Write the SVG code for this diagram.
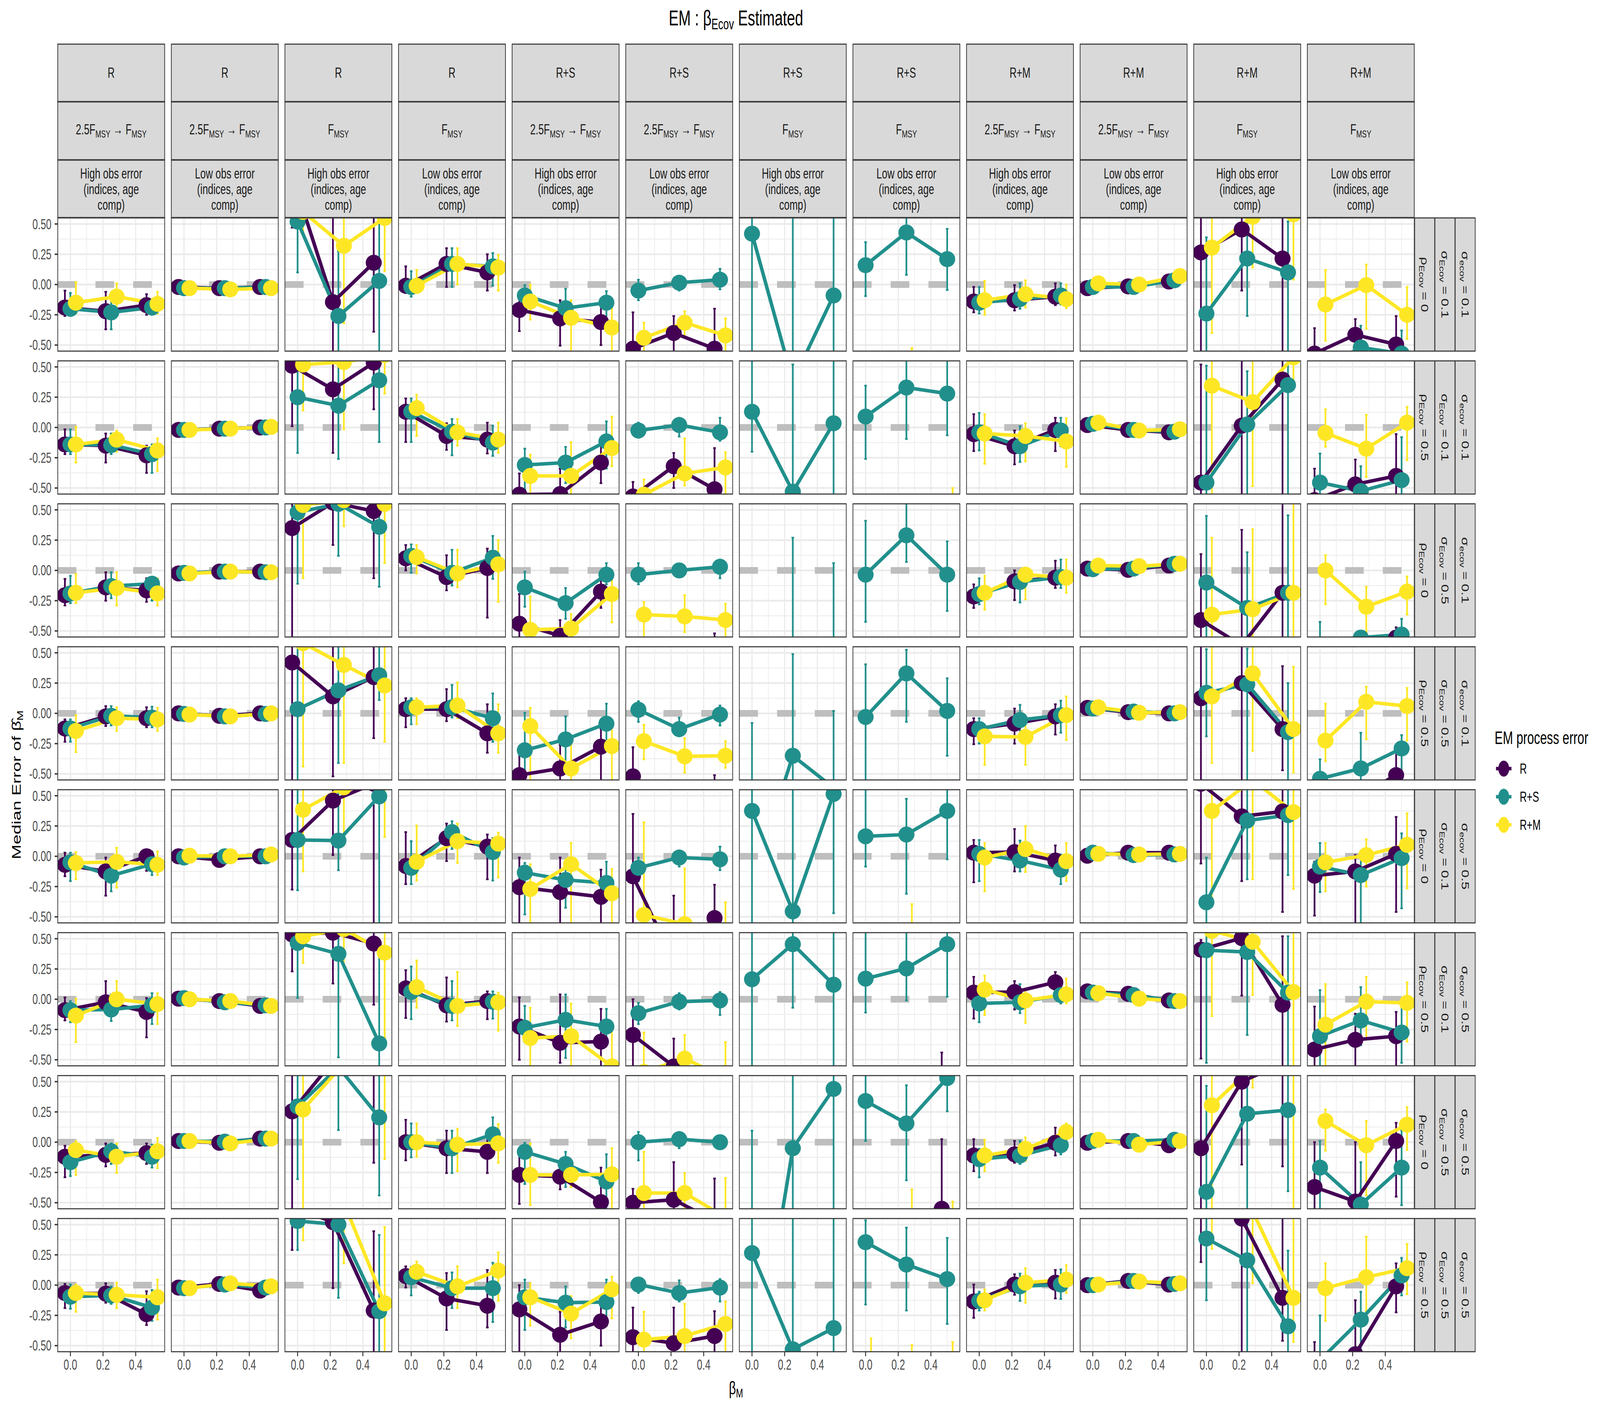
<svg xmlns="http://www.w3.org/2000/svg" xmlns:xlink="http://www.w3.org/1999/xlink" width="6000" height="3600" viewBox="0 0 6000 3600" preserveAspectRatio="none" style="width:100vw;height:100vh">
<defs>
<style>
text{font-family:"Liberation Sans",Arial,Helvetica,sans-serif}
.eb{fill:none;stroke-width:4.4px;vector-effect:non-scaling-stroke}
.ln{fill:none;stroke-width:9px;stroke-linejoin:round;vector-effect:non-scaling-stroke}
.pt{fill:none;stroke-width:41px;stroke-linecap:round;vector-effect:non-scaling-stroke}
.r{stroke:#440154}.s{stroke:#21908C}.m{stroke:#FDE725}
.sb{fill:#D9D9D9;stroke:#333333;stroke-width:2.7px}
.st{font-size:36.7px;fill:#1A1A1A;text-anchor:middle}
.ax{font-size:36.7px;fill:#4D4D4D}
</style>
<clipPath id="cp"><rect width="401" height="341"/></clipPath>
<g id="bg">
<rect width="401" height="341" fill="#FFFFFF"/>
<path d="M0 54.25H401M0 131.75H401M0 209.25H401M0 286.75H401M108.7 0V341M231.1 0V341M353.5 0V341" stroke="#EBEBEB" stroke-width="2.2" fill="none"/>
<path d="M0 15.5H401M0 93H401M0 170.5H401M0 248H401M0 325.5H401M47.5 0V341M169.9 0V341M292.3 0V341" stroke="#EBEBEB" stroke-width="4.4" fill="none"/>
<path d="M0 170.5H401" stroke="#BEBEBE" stroke-width="17" stroke-dasharray="70 71.5" fill="none"/>
</g>
<rect id="bd" width="401" height="341" fill="none" stroke="#333333" stroke-width="2.7"/>
<g id="sR"><rect class="sb" y="113" width="401" height="147"/><text class="st" x="200.5" y="199">R</text></g>
<g id="sRS"><rect class="sb" y="113" width="401" height="147"/><text class="st" x="200.5" y="199">R+S</text></g>
<g id="sRM"><rect class="sb" y="113" width="401" height="147"/><text class="st" x="200.5" y="199">R+M</text></g>
<g id="s25"><rect class="sb" y="261" width="401" height="148"/><text class="st" x="200.5" y="344">2.5F<tspan font-size="26" dy="8">MSY</tspan><tspan dy="-8"> → F</tspan><tspan font-size="26" dy="8">MSY</tspan></text></g>
<g id="sF"><rect class="sb" y="261" width="401" height="148"/><text class="st" x="200.5" y="344">F<tspan font-size="26" dy="8">MSY</tspan></text></g>
<g id="sH"><rect class="sb" y="410" width="401" height="147"/><text class="st" x="200.5" y="457">High obs error</text><text class="st" x="200.5" y="497">(indices, age</text><text class="st" x="200.5" y="537">comp)</text></g>
<g id="sL"><rect class="sb" y="410" width="401" height="147"/><text class="st" x="200.5" y="457">Low obs error</text><text class="st" x="200.5" y="497">(indices, age</text><text class="st" x="200.5" y="537">comp)</text></g>
<g id="rr0"><rect class="sb" x="5305" width="75" height="341"/><text class="st" transform="translate(5342.5 170.5) rotate(90)" y="13">ρ<tspan font-size="26" dy="8">Ecov</tspan><tspan dy="-8"> = 0</tspan></text></g>
<g id="rr5"><rect class="sb" x="5305" width="75" height="341"/><text class="st" transform="translate(5342.5 170.5) rotate(90)" y="13">ρ<tspan font-size="26" dy="8">Ecov</tspan><tspan dy="-8"> = 0.5</tspan></text></g>
<g id="rs1"><rect class="sb" x="5381" width="75" height="341"/><text class="st" transform="translate(5418.5 170.5) rotate(90)" y="13">σ<tspan font-size="26" dy="8">Ecov</tspan><tspan dy="-8"> = 0.1</tspan></text></g>
<g id="rs5"><rect class="sb" x="5381" width="75" height="341"/><text class="st" transform="translate(5418.5 170.5) rotate(90)" y="13">σ<tspan font-size="26" dy="8">Ecov</tspan><tspan dy="-8"> = 0.5</tspan></text></g>
<g id="re1"><rect class="sb" x="5457" width="75" height="341"/><text class="st" transform="translate(5494.5 170.5) rotate(90)" y="13">σ<tspan font-size="26" dy="8">ecov</tspan><tspan dy="-8"> = 0.1</tspan></text></g>
<g id="re5"><rect class="sb" x="5457" width="75" height="341"/><text class="st" transform="translate(5494.5 170.5) rotate(90)" y="13">σ<tspan font-size="26" dy="8">ecov</tspan><tspan dy="-8"> = 0.5</tspan></text></g>
<g id="ya"><path d="M205 15.5H216.5M205 93H216.5M205 170.5H216.5M205 248H216.5M205 325.5H216.5" stroke="#333333" stroke-width="3.5"/><g class="ax" text-anchor="end"><text x="193" y="28.5">0.50</text><text x="193" y="106">0.25</text><text x="193" y="183.5">0.00</text><text x="193" y="261">-0.25</text><text x="193" y="338.5">-0.50</text></g></g>
<g id="xa"><path d="M47.5 3461V3472.5M169.9 3461V3472.5M292.3 3461V3472.5" stroke="#333333" stroke-width="3.5"/><g class="ax" text-anchor="middle"><text x="47.5" y="3507">0.0</text><text x="169.9" y="3507">0.2</text><text x="292.3" y="3507">0.4</text></g></g>
</defs>
<rect width="6000" height="3600" fill="#FFFFFF"/>
<text x="2760" y="65" font-size="55" text-anchor="middle" fill="#000000">EM : β<tspan font-size="38" dy="10">Ecov</tspan><tspan dy="-10"> Estimated</tspan></text>
<g id="top-strips">
<use href="#sR" x="216.5"/><use href="#sR" x="642.5"/><use href="#sR" x="1068.5"/><use href="#sR" x="1494.5"/>
<use href="#sRS" x="1920.5"/><use href="#sRS" x="2346.5"/><use href="#sRS" x="2772.5"/><use href="#sRS" x="3198.5"/>
<use href="#sRM" x="3624.5"/><use href="#sRM" x="4050.5"/><use href="#sRM" x="4476.5"/><use href="#sRM" x="4902.5"/>
<use href="#s25" x="216.5"/><use href="#s25" x="642.5"/><use href="#sF" x="1068.5"/><use href="#sF" x="1494.5"/>
<use href="#s25" x="1920.5"/><use href="#s25" x="2346.5"/><use href="#sF" x="2772.5"/><use href="#sF" x="3198.5"/>
<use href="#s25" x="3624.5"/><use href="#s25" x="4050.5"/><use href="#sF" x="4476.5"/><use href="#sF" x="4902.5"/>
<use href="#sH" x="216.5"/><use href="#sL" x="642.5"/><use href="#sH" x="1068.5"/><use href="#sL" x="1494.5"/>
<use href="#sH" x="1920.5"/><use href="#sL" x="2346.5"/><use href="#sH" x="2772.5"/><use href="#sL" x="3198.5"/>
<use href="#sH" x="3624.5"/><use href="#sL" x="4050.5"/><use href="#sH" x="4476.5"/><use href="#sL" x="4902.5"/>
</g>
<g id="right-strips">
<use href="#rr0" y="558"/><use href="#rs1" y="558"/><use href="#re1" y="558"/>
<use href="#rr5" y="924"/><use href="#rs1" y="924"/><use href="#re1" y="924"/>
<use href="#rr0" y="1290"/><use href="#rs5" y="1290"/><use href="#re1" y="1290"/>
<use href="#rr5" y="1656"/><use href="#rs5" y="1656"/><use href="#re1" y="1656"/>
<use href="#rr0" y="2022"/><use href="#rs1" y="2022"/><use href="#re5" y="2022"/>
<use href="#rr5" y="2388"/><use href="#rs1" y="2388"/><use href="#re5" y="2388"/>
<use href="#rr0" y="2754"/><use href="#rs5" y="2754"/><use href="#re5" y="2754"/>
<use href="#rr5" y="3120"/><use href="#rs5" y="3120"/><use href="#re5" y="3120"/>
</g>
<g id="axes">
<use href="#ya" y="558"/><use href="#ya" y="924"/><use href="#ya" y="1290"/><use href="#ya" y="1656"/><use href="#ya" y="2022"/><use href="#ya" y="2388"/><use href="#ya" y="2754"/><use href="#ya" y="3120"/>
<use href="#xa" x="216.5"/><use href="#xa" x="642.5"/><use href="#xa" x="1068.5"/><use href="#xa" x="1494.5"/><use href="#xa" x="1920.5"/><use href="#xa" x="2346.5"/><use href="#xa" x="2772.5"/><use href="#xa" x="3198.5"/><use href="#xa" x="3624.5"/><use href="#xa" x="4050.5"/><use href="#xa" x="4476.5"/><use href="#xa" x="4902.5"/>
<text transform="translate(78 2009.5) rotate(-90)" font-size="45.8" text-anchor="middle" fill="#000000">Median Error of β̂<tspan font-size="32" dy="8">M</tspan></text>
<text x="2760" y="3570" font-size="45.8" text-anchor="middle" fill="#000000">β<tspan font-size="32" dy="8">M</tspan></text>
</g>
<g id="panels">
<!-- Row 1 -->
<g id="p1-1" transform="translate(216.5 558)"><use href="#bg"/><g clip-path="url(#cp)"><g transform="translate(47.5 170.5) scale(612 -310)">
<path class="eb r" d="M-.0335 -.26V-.05m-.008 0h.016M-.0415 -.26h.016M.2165 -.37V-.06m-.008 0h.016M.2085 -.37h.016M.4665 -.25V-.08m-.008 0h.016M.4585 -.25h.016"/>
<path class="eb s" d="M0 -.26V-.07m-.008 0h.016M-.008 -.26h.016M.25 -.37V-.08m-.008 0h.016M.242 -.37h.016M.5 -.25V-.13m-.008 0h.016M.492 -.25h.016"/>
<path class="eb m" d="M.0335 -.24V.02m-.008 0h.016M.0255 -.24h.016M.2835 -.26V.01m-.008 0h.016M.2755 -.26h.016M.5335 -.24V-.06m-.008 0h.016M.5255 -.24h.016"/>
<path class="ln r" d="M-.0335 -.19L.2165 -.22L.4665 -.17"/><path class="ln s" d="M0 -.2L.25 -.23L.5 -.19"/><path class="ln m" d="M.0335 -.15L.2835 -.1L.5335 -.16"/>
<path class="pt r" d="M-.0335 -.19h.0001M.2165 -.22h.0001M.4665 -.17h.0001"/><path class="pt s" d="M0 -.2h.0001M.25 -.23h.0001M.5 -.19h.0001"/><path class="pt m" d="M.0335 -.15h.0001M.2835 -.1h.0001M.5335 -.16h.0001"/>
</g></g><use href="#bd"/></g>
<g id="p1-2" transform="translate(642.5 558)"><use href="#bg"/><g clip-path="url(#cp)"><g transform="translate(47.5 170.5) scale(612 -310)">
<path class="ln r" d="M-.0335 -.02L.2165 -.03L.4665 -.02"/><path class="ln s" d="M0 -.03L.25 -.03L.5 -.02"/><path class="ln m" d="M.0335 -.03L.2835 -.04L.5335 -.03"/>
<path class="pt r" d="M-.0335 -.02h.0001M.2165 -.03h.0001M.4665 -.02h.0001"/><path class="pt s" d="M0 -.03h.0001M.25 -.03h.0001M.5 -.02h.0001"/><path class="pt m" d="M.0335 -.03h.0001M.2835 -.04h.0001M.5335 -.03h.0001"/>
</g></g><use href="#bd"/></g>
<g id="p1-3" transform="translate(1068.5 558)"><use href="#bg"/><g clip-path="url(#cp)"><g transform="translate(47.5 170.5) scale(612 -310)">
<path class="eb r" d="M-.0335 .47V1M-.0415 .47h.016M.2165 -1V1M.4665 -.39V1M.4585 -.39h.016"/>
<path class="eb s" d="M0 .1V1M-.008 .1h.016M.25 -1V.275m-.008 0h.016M.5 -1V1"/>
<path class="eb m" d="M.0335 .43V1M.0255 .43h.016M.2835 -.32V1M.2755 -.32h.016M.5335 .11V1M.5255 .11h.016"/>
<path class="ln r" d="M-.0335 .9L.2165 -.145L.4665 .18"/><path class="ln s" d="M0 .52L.25 -.26L.5 .03"/><path class="ln m" d="M.0335 .6L.2835 .32L.5335 .55"/>
<path class="pt r" d="M-.0335 .9h.0001M.2165 -.145h.0001M.4665 .18h.0001"/><path class="pt s" d="M0 .52h.0001M.25 -.26h.0001M.5 .03h.0001"/><path class="pt m" d="M.0335 .6h.0001M.2835 .32h.0001M.5335 .55h.0001"/>
</g></g><use href="#bd"/></g>
<g id="p1-4" transform="translate(1494.5 558)"><use href="#bg"/><g clip-path="url(#cp)"><g transform="translate(47.5 170.5) scale(612 -310)">
<path class="eb r" d="M-.0335 -.07V.15m-.008 0h.016M-.0415 -.07h.016M.2165 -.02V.3m-.008 0h.016M.2085 -.02h.016M.4665 -.05V.25m-.008 0h.016M.4585 -.05h.016"/>
<path class="eb s" d="M0 -.1V.11m-.008 0h.016M-.008 -.1h.016M.25 -.02V.3m-.008 0h.016M.242 -.02h.016M.5 -.01V.26m-.008 0h.016M.492 -.01h.016"/>
<path class="eb m" d="M.0335 -.07V.12m-.008 0h.016M.0255 -.07h.016M.2835 0V.3m-.008 0h.016M.2755 0h.016M.5335 -.05V.245m-.008 0h.016M.5255 -.05h.016"/>
<path class="ln r" d="M-.0335 -.01L.2165 .17L.4665 .1"/><path class="ln s" d="M0 -.02L.25 .17L.5 .15"/><path class="ln m" d="M.0335 -.01L.2835 .17L.5335 .14"/>
<path class="pt r" d="M-.0335 -.01h.0001M.2165 .17h.0001M.4665 .1h.0001"/><path class="pt s" d="M0 -.02h.0001M.25 .17h.0001M.5 .15h.0001"/><path class="pt m" d="M.0335 -.01h.0001M.2835 .17h.0001M.5335 .14h.0001"/>
</g></g><use href="#bd"/></g>
<g id="p1-5" transform="translate(1920.5 558)"><use href="#bg"/><g clip-path="url(#cp)"><g transform="translate(47.5 170.5) scale(612 -310)">
<path class="eb r" d="M-.0335 -.385V-.11m-.008 0h.016M-.0415 -.385h.016M.2165 -.505V-.13m-.008 0h.016M.2085 -.505h.016M.4665 -.5V-.12m-.008 0h.016M.4585 -.5h.016"/>
<path class="eb s" d="M0 -.2V-.005m-.008 0h.016M-.008 -.2h.016M.25 -.3V-.035m-.008 0h.016M.242 -.3h.016M.5 -.385V-.055m-.008 0h.016M.492 -.385h.016"/>
<path class="eb m" d="M.0335 -.29V0m-.008 0h.016M.0255 -.29h.016M.2835 -1V-.13m-.008 0h.016M.5335 -1V-.12m-.008 0h.016"/>
<path class="ln r" d="M-.0335 -.21L.2165 -.28L.4665 -.31"/><path class="ln s" d="M0 -.09L.25 -.195L.5 -.15"/><path class="ln m" d="M.0335 -.14L.2835 -.275L.5335 -.355"/>
<path class="pt r" d="M-.0335 -.21h.0001M.2165 -.28h.0001M.4665 -.31h.0001"/><path class="pt s" d="M0 -.09h.0001M.25 -.195h.0001M.5 -.15h.0001"/><path class="pt m" d="M.0335 -.14h.0001M.2835 -.275h.0001M.5335 -.355h.0001"/>
</g></g><use href="#bd"/></g>
<g id="p1-6" transform="translate(2346.5 558)"><use href="#bg"/><g clip-path="url(#cp)"><g transform="translate(47.5 170.5) scale(612 -310)">
<path class="eb r" d="M-.0335 -1V-.23m-.008 0h.016M.2165 -1V-.26m-.008 0h.016M.4665 -1V-.2m-.008 0h.016"/>
<path class="eb s" d="M0 -.13V.04m-.008 0h.016M-.008 -.13h.016M.25 -.05V.035m-.008 0h.016M.242 -.05h.016M.5 -.04V.13m-.008 0h.016M.492 -.04h.016"/>
<path class="eb m" d="M.0335 -1V-.315m-.008 0h.016M.2835 -.435V-.22m-.008 0h.016M.2755 -.435h.016M.5335 -1V-.28m-.008 0h.016"/>
<path class="ln r" d="M-.0335 -.53L.2165 -.4L.4665 -.53"/><path class="ln s" d="M0 -.05L.25 .015L.5 .04"/><path class="ln m" d="M.0335 -.44L.2835 -.315L.5335 -.42"/>
<path class="pt r" d="M-.0335 -.53h.0001M.2165 -.4h.0001M.4665 -.53h.0001"/><path class="pt s" d="M0 -.05h.0001M.25 .015h.0001M.5 .04h.0001"/><path class="pt m" d="M.0335 -.44h.0001M.2835 -.315h.0001M.5335 -.42h.0001"/>
</g></g><use href="#bd"/></g>
<g id="p1-7" transform="translate(2772.5 558)"><use href="#bg"/><g clip-path="url(#cp)"><g transform="translate(47.5 170.5) scale(612 -310)">
<path class="eb s" d="M0 -1V1M.25 -1V1M.5 -1V1"/>
<path class="ln s" d="M0 .42L.25 -.8L.5 -.09"/>
<path class="pt s" d="M0 .42h.0001M.25 -.8h.0001M.5 -.09h.0001"/>
</g></g><use href="#bd"/></g>
<g id="p1-8" transform="translate(3198.5 558)"><use href="#bg"/><g clip-path="url(#cp)"><g transform="translate(47.5 170.5) scale(612 -310)">
<path class="eb s" d="M0 -.095V.35m-.008 0h.016M-.008 -.095h.016M.25 .08V1M.242 .08h.016M.5 -.045V.46m-.008 0h.016M.492 -.045h.016"/>
<path class="eb m" d="M.2835 -1V-.525m-.008 0h.016"/>
<path class="ln s" d="M0 .16L.25 .43L.5 .21"/>
<path class="pt s" d="M0 .16h.0001M.25 .43h.0001M.5 .21h.0001"/>
</g></g><use href="#bd"/></g>
<g id="p1-9" transform="translate(3624.5 558)"><use href="#bg"/><g clip-path="url(#cp)"><g transform="translate(47.5 170.5) scale(612 -310)">
<path class="eb r" d="M-.0335 -.23V-.02m-.008 0h.016M-.0415 -.23h.016M.2165 -.215V-.005m-.008 0h.016M.2085 -.215h.016M.4665 -.17V.01m-.008 0h.016M.4585 -.17h.016"/>
<path class="eb s" d="M0 -.24V-.02m-.008 0h.016M-.008 -.24h.016M.25 -.2V.01m-.008 0h.016M.242 -.2h.016M.5 -.165V.01m-.008 0h.016M.492 -.165h.016"/>
<path class="eb m" d="M.0335 -.25V.03m-.008 0h.016M.0255 -.25h.016M.2835 -.19V.035m-.008 0h.016M.2755 -.19h.016M.5335 -.195V0m-.008 0h.016M.5255 -.195h.016"/>
<path class="ln r" d="M-.0335 -.14L.2165 -.13L.4665 -.1"/><path class="ln s" d="M0 -.15L.25 -.12L.5 -.09"/><path class="ln m" d="M.0335 -.13L.2835 -.08L.5335 -.12"/>
<path class="pt r" d="M-.0335 -.14h.0001M.2165 -.13h.0001M.4665 -.1h.0001"/><path class="pt s" d="M0 -.15h.0001M.25 -.12h.0001M.5 -.09h.0001"/><path class="pt m" d="M.0335 -.13h.0001M.2835 -.08h.0001M.5335 -.12h.0001"/>
</g></g><use href="#bd"/></g>
<g id="p1-10" transform="translate(4050.5 558)"><use href="#bg"/><g clip-path="url(#cp)"><g transform="translate(47.5 170.5) scale(612 -310)">
<path class="ln r" d="M-.0335 -.03L.2165 -.015L.4665 .025"/><path class="ln s" d="M0 -.02L.25 -.02L.5 .035"/><path class="ln m" d="M.0335 .01L.2835 0L.5335 .07"/>
<path class="pt r" d="M-.0335 -.03h.0001M.2165 -.015h.0001M.4665 .025h.0001"/><path class="pt s" d="M0 -.02h.0001M.25 -.02h.0001M.5 .035h.0001"/><path class="pt m" d="M.0335 .01h.0001M.2835 0h.0001M.5335 .07h.0001"/>
</g></g><use href="#bd"/></g>
<g id="p1-11" transform="translate(4476.5 558)"><use href="#bg"/><g clip-path="url(#cp)"><g transform="translate(47.5 170.5) scale(612 -310)">
<path class="eb r" d="M-.0335 -1V1M.2165 -.05V1M.2085 -.05h.016M.4665 -1V1"/>
<path class="eb s" d="M0 -1V.39m-.008 0h.016M.25 -.26V1M.242 -.26h.016M.5 -1V.52m-.008 0h.016"/>
<path class="eb m" d="M.0335 -.4V1M.0255 -.4h.016M.2835 .14V1M.2755 .14h.016M.5335 .04V1M.5255 .04h.016"/>
<path class="ln r" d="M-.0335 .265L.2165 .455L.4665 .215"/><path class="ln s" d="M0 -.24L.25 .215L.5 .1"/><path class="ln m" d="M.0335 .305L.2835 .56L.5335 .58"/>
<path class="pt r" d="M-.0335 .265h.0001M.2165 .455h.0001M.4665 .215h.0001"/><path class="pt s" d="M0 -.24h.0001M.25 .215h.0001M.5 .1h.0001"/><path class="pt m" d="M.0335 .305h.0001M.2835 .56h.0001M.5335 .58h.0001"/>
</g></g><use href="#bd"/></g>
<g id="p1-12" transform="translate(4902.5 558)"><use href="#bg"/><g clip-path="url(#cp)"><g transform="translate(47.5 170.5) scale(612 -310)">
<path class="eb r" d="M-.0335 -1V-.36m-.008 0h.016M.2165 -1V-.285m-.008 0h.016M.4665 -1V-.26m-.008 0h.016"/>
<path class="eb s" d="M0 -1V-.6M.25 -1V-.34m-.008 0h.016M.5 -1V-.38m-.008 0h.016"/>
<path class="eb m" d="M.0335 -.465V.12m-.008 0h.016M.0255 -.465h.016M.2835 -.365V.165m-.008 0h.016M.2755 -.365h.016M.5335 -.45V-.02m-.008 0h.016M.5255 -.45h.016"/>
<path class="ln r" d="M-.0335 -.57L.2165 -.415L.4665 -.495"/><path class="ln s" d="M0 -.7L.25 -.52L.5 -.57"/><path class="ln m" d="M.0335 -.165L.2835 -.005L.5335 -.25"/>
<path class="pt r" d="M-.0335 -.57h.0001M.2165 -.415h.0001M.4665 -.495h.0001"/><path class="pt s" d="M0 -.7h.0001M.25 -.52h.0001M.5 -.57h.0001"/><path class="pt m" d="M.0335 -.165h.0001M.2835 -.005h.0001M.5335 -.25h.0001"/>
</g></g><use href="#bd"/></g>
<!-- Row 2 -->
<g id="p2-1" transform="translate(216.5 924)"><use href="#bg"/><g clip-path="url(#cp)"><g transform="translate(47.5 170.5) scale(612 -310)">
<path class="eb r" d="M-.0335 -.22V-.015m-.008 0h.016M-.0415 -.22h.016M.2165 -.29V-.05m-.008 0h.016M.2085 -.29h.016M.4665 -.375V-.15m-.008 0h.016M.4585 -.375h.016"/>
<path class="eb s" d="M0 -.22V-.015m-.008 0h.016M-.008 -.22h.016M.25 -.22V-.05m-.008 0h.016M.242 -.22h.016M.5 -.375V-.14m-.008 0h.016M.492 -.375h.016"/>
<path class="eb m" d="M.0335 -.29V.005m-.008 0h.016M.0255 -.29h.016M.2835 -.2V-.025m-.008 0h.016M.2755 -.2h.016M.5335 -.36V-.09m-.008 0h.016M.5255 -.36h.016"/>
<path class="ln r" d="M-.0335 -.14L.2165 -.15L.4665 -.23"/><path class="ln s" d="M0 -.14L.25 -.145L.5 -.22"/><path class="ln m" d="M.0335 -.14L.2835 -.1L.5335 -.19"/>
<path class="pt r" d="M-.0335 -.14h.0001M.2165 -.15h.0001M.4665 -.23h.0001"/><path class="pt s" d="M0 -.14h.0001M.25 -.145h.0001M.5 -.22h.0001"/><path class="pt m" d="M.0335 -.14h.0001M.2835 -.1h.0001M.5335 -.19h.0001"/>
</g></g><use href="#bd"/></g>
<g id="p2-2" transform="translate(642.5 924)"><use href="#bg"/><g clip-path="url(#cp)"><g transform="translate(47.5 170.5) scale(612 -310)">
<path class="ln r" d="M-.0335 -.02L.2165 -.01L.4665 0"/><path class="ln s" d="M0 -.02L.25 -.01L.5 0"/><path class="ln m" d="M.0335 -.02L.2835 -.01L.5335 .005"/>
<path class="pt r" d="M-.0335 -.02h.0001M.2165 -.01h.0001M.4665 0h.0001"/><path class="pt s" d="M0 -.02h.0001M.25 -.01h.0001M.5 0h.0001"/><path class="pt m" d="M.0335 -.02h.0001M.2835 -.01h.0001M.5335 .005h.0001"/>
</g></g><use href="#bd"/></g>
<g id="p2-3" transform="translate(1068.5 924)"><use href="#bg"/><g clip-path="url(#cp)"><g transform="translate(47.5 170.5) scale(612 -310)">
<path class="eb r" d="M-.0335 .01V1M-.0415 .01h.016M.2165 -.21V1M.2085 -.21h.016M.4665 .15V1M.4585 .15h.016"/>
<path class="eb s" d="M0 -.21V1M-.008 -.21h.016M.25 -.26V1M.242 -.26h.016M.5 -.12V1M.492 -.12h.016"/>
<path class="eb m" d="M.0335 .14V1M.0255 .14h.016M.2835 -.015V1M.2755 -.015h.016M.5335 .28V1M.5255 .28h.016"/>
<path class="ln r" d="M-.0335 .51L.2165 .315L.4665 .535"/><path class="ln s" d="M0 .25L.25 .18L.5 .39"/><path class="ln m" d="M.0335 .52L.2835 .54L.5335 .6"/>
<path class="pt r" d="M-.0335 .51h.0001M.2165 .315h.0001M.4665 .535h.0001"/><path class="pt s" d="M0 .25h.0001M.25 .18h.0001M.5 .39h.0001"/><path class="pt m" d="M.0335 .52h.0001M.2835 .54h.0001M.5335 .6h.0001"/>
</g></g><use href="#bd"/></g>
<g id="p2-4" transform="translate(1494.5 924)"><use href="#bg"/><g clip-path="url(#cp)"><g transform="translate(47.5 170.5) scale(612 -310)">
<path class="eb r" d="M-.0335 -.12V.24m-.008 0h.016M-.0415 -.12h.016M.2165 -.185V.035m-.008 0h.016M.2085 -.185h.016M.4665 -.215V.04m-.008 0h.016M.4585 -.215h.016"/>
<path class="eb s" d="M0 -.12V.24m-.008 0h.016M-.008 -.12h.016M.25 -.23V.07m-.008 0h.016M.242 -.23h.016M.5 -.235V.015m-.008 0h.016M.492 -.235h.016"/>
<path class="eb m" d="M.0335 -.07V.27m-.008 0h.016M.0255 -.07h.016M.2835 -.15V.07m-.008 0h.016M.2755 -.15h.016M.5335 -.21V.04m-.008 0h.016M.5255 -.21h.016"/>
<path class="ln r" d="M-.0335 .13L.2165 -.07L.4665 -.1"/><path class="ln s" d="M0 .13L.25 -.035L.5 -.125"/><path class="ln m" d="M.0335 .16L.2835 -.04L.5335 -.1"/>
<path class="pt r" d="M-.0335 .13h.0001M.2165 -.07h.0001M.4665 -.1h.0001"/><path class="pt s" d="M0 .13h.0001M.25 -.035h.0001M.5 -.125h.0001"/><path class="pt m" d="M.0335 .16h.0001M.2835 -.04h.0001M.5335 -.1h.0001"/>
</g></g><use href="#bd"/></g>
<g id="p2-5" transform="translate(1920.5 924)"><use href="#bg"/><g clip-path="url(#cp)"><g transform="translate(47.5 170.5) scale(612 -310)">
<path class="eb r" d="M-.0335 -1V-.38m-.008 0h.016M.2165 -1V-.34m-.008 0h.016M.4665 -.46V-.14m-.008 0h.016M.4585 -.46h.016"/>
<path class="eb s" d="M0 -.515V-.175m-.008 0h.016M-.008 -.515h.016M.25 -.46V-.16m-.008 0h.016M.242 -.46h.016M.5 -.34V.05m-.008 0h.016M.492 -.34h.016"/>
<path class="eb m" d="M.0335 -1V-.225m-.008 0h.016M.2835 -1V-.12m-.008 0h.016M.5335 -.32V.09m-.008 0h.016M.5255 -.32h.016"/>
<path class="ln r" d="M-.0335 -.555L.2165 -.55L.4665 -.29"/><path class="ln s" d="M0 -.31L.25 -.29L.5 -.115"/><path class="ln m" d="M.0335 -.4L.2835 -.4L.5335 -.17"/>
<path class="pt r" d="M-.0335 -.555h.0001M.2165 -.55h.0001M.4665 -.29h.0001"/><path class="pt s" d="M0 -.31h.0001M.25 -.29h.0001M.5 -.115h.0001"/><path class="pt m" d="M.0335 -.4h.0001M.2835 -.4h.0001M.5335 -.17h.0001"/>
</g></g><use href="#bd"/></g>
<g id="p2-6" transform="translate(2346.5 924)"><use href="#bg"/><g clip-path="url(#cp)"><g transform="translate(47.5 170.5) scale(612 -310)">
<path class="eb r" d="M-.0335 -1V-.45m-.008 0h.016M.2165 -.5V-.21m-.008 0h.016M.2085 -.5h.016M.4665 -1V-.17m-.008 0h.016"/>
<path class="eb s" d="M0 -.085V.04m-.008 0h.016M-.008 -.085h.016M.25 -.075V.08m-.008 0h.016M.242 -.075h.016M.5 -.11V.08m-.008 0h.016M.492 -.11h.016"/>
<path class="eb m" d="M.0335 -1V-.43m-.008 0h.016M.2835 -.48V-.09m-.008 0h.016M.2755 -.48h.016M.5335 -1V-.205m-.008 0h.016"/>
<path class="ln r" d="M-.0335 -.57L.2165 -.32L.4665 -.51"/><path class="ln s" d="M0 -.025L.25 .02L.5 -.04"/><path class="ln m" d="M.0335 -.555L.2835 -.38L.5335 -.33"/>
<path class="pt r" d="M-.0335 -.57h.0001M.2165 -.32h.0001M.4665 -.51h.0001"/><path class="pt s" d="M0 -.025h.0001M.25 .02h.0001M.5 -.04h.0001"/><path class="pt m" d="M.0335 -.555h.0001M.2835 -.38h.0001M.5335 -.33h.0001"/>
</g></g><use href="#bd"/></g>
<g id="p2-7" transform="translate(2772.5 924)"><use href="#bg"/><g clip-path="url(#cp)"><g transform="translate(47.5 170.5) scale(612 -310)">
<path class="eb s" d="M0 -.2V1M-.008 -.2h.016M.25 -1V.52m-.008 0h.016M.5 -1V1"/>
<path class="ln s" d="M0 .13L.25 -.53L.5 .035"/>
<path class="pt s" d="M0 .13h.0001M.25 -.53h.0001M.5 .035h.0001"/>
</g></g><use href="#bd"/></g>
<g id="p2-8" transform="translate(3198.5 924)"><use href="#bg"/><g clip-path="url(#cp)"><g transform="translate(47.5 170.5) scale(612 -310)">
<path class="eb s" d="M0 -.26V.345m-.008 0h.016M-.008 -.26h.016M.25 -.095V1M.242 -.095h.016M.5 -.065V1M.492 -.065h.016"/>
<path class="eb m" d="M.5335 -1V-.5m-.008 0h.016"/>
<path class="ln s" d="M0 .09L.25 .33L.5 .28"/>
<path class="pt s" d="M0 .09h.0001M.25 .33h.0001M.5 .28h.0001"/>
</g></g><use href="#bd"/></g>
<g id="p2-9" transform="translate(3624.5 924)"><use href="#bg"/><g clip-path="url(#cp)"><g transform="translate(47.5 170.5) scale(612 -310)">
<path class="eb r" d="M-.0335 -.195V.11m-.008 0h.016M-.0415 -.195h.016M.2165 -.305V-.025m-.008 0h.016M.2085 -.305h.016M.4665 -.195V.08m-.008 0h.016M.4585 -.195h.016"/>
<path class="eb s" d="M0 -.19V.12m-.008 0h.016M-.008 -.19h.016M.25 -.285V.01m-.008 0h.016M.242 -.285h.016M.5 -.155V.08m-.008 0h.016M.492 -.155h.016"/>
<path class="eb m" d="M.0335 -.3V.11m-.008 0h.016M.0255 -.3h.016M.2835 -.28V.035m-.008 0h.016M.2755 -.28h.016M.5335 -.325V.075m-.008 0h.016M.5255 -.325h.016"/>
<path class="ln r" d="M-.0335 -.055L.2165 -.155L.4665 -.02"/><path class="ln s" d="M0 -.04L.25 -.155L.5 -.025"/><path class="ln m" d="M.0335 -.05L.2835 -.07L.5335 -.115"/>
<path class="pt r" d="M-.0335 -.055h.0001M.2165 -.155h.0001M.4665 -.02h.0001"/><path class="pt s" d="M0 -.04h.0001M.25 -.155h.0001M.5 -.025h.0001"/><path class="pt m" d="M.0335 -.05h.0001M.2835 -.07h.0001M.5335 -.115h.0001"/>
</g></g><use href="#bd"/></g>
<g id="p2-10" transform="translate(4050.5 924)"><use href="#bg"/><g clip-path="url(#cp)"><g transform="translate(47.5 170.5) scale(612 -310)">
<path class="ln r" d="M-.0335 .02L.2165 -.02L.4665 -.04"/><path class="ln s" d="M0 .03L.25 -.02L.5 -.035"/><path class="ln m" d="M.0335 .04L.2835 -.025L.5335 -.015"/>
<path class="pt r" d="M-.0335 .02h.0001M.2165 -.02h.0001M.4665 -.04h.0001"/><path class="pt s" d="M0 .03h.0001M.25 -.02h.0001M.5 -.035h.0001"/><path class="pt m" d="M.0335 .04h.0001M.2835 -.025h.0001M.5335 -.015h.0001"/>
</g></g><use href="#bd"/></g>
<g id="p2-11" transform="translate(4476.5 924)"><use href="#bg"/><g clip-path="url(#cp)"><g transform="translate(47.5 170.5) scale(612 -310)">
<path class="eb r" d="M-.0335 -1V.52m-.008 0h.016M.2165 -1V1M.4665 -1V1"/>
<path class="eb s" d="M0 -1V.51m-.008 0h.016M.25 -1V.465m-.008 0h.016M.5 -1V1"/>
<path class="eb m" d="M.0335 -1V1M.2835 -.485V1M.2755 -.485h.016M.5335 .345V1M.5255 .345h.016"/>
<path class="ln r" d="M-.0335 -.455L.2165 .015L.4665 .395"/><path class="ln s" d="M0 -.455L.25 .025L.5 .35"/><path class="ln m" d="M.0335 .345L.2835 .21L.5335 .58"/>
<path class="pt r" d="M-.0335 -.455h.0001M.2165 .015h.0001M.4665 .395h.0001"/><path class="pt s" d="M0 -.455h.0001M.25 .025h.0001M.5 .35h.0001"/><path class="pt m" d="M.0335 .345h.0001M.2835 .21h.0001M.5335 .58h.0001"/>
</g></g><use href="#bd"/></g>
<g id="p2-12" transform="translate(4902.5 924)"><use href="#bg"/><g clip-path="url(#cp)"><g transform="translate(47.5 170.5) scale(612 -310)">
<path class="eb r" d="M-.0335 -1V-.34m-.008 0h.016M.2165 -1V-.265m-.008 0h.016M.4665 -1V-.055m-.008 0h.016"/>
<path class="eb s" d="M0 -1V-.215m-.008 0h.016M.25 -1V-.32m-.008 0h.016M.5 -1V-.08m-.008 0h.016"/>
<path class="eb m" d="M.0335 -.16V.15m-.008 0h.016M.0255 -.16h.016M.2835 -.41V.105m-.008 0h.016M.2755 -.41h.016M.5335 -.27V.17m-.008 0h.016M.5255 -.27h.016"/>
<path class="ln r" d="M-.0335 -.6L.2165 -.47L.4665 -.4"/><path class="ln s" d="M0 -.455L.25 -.525L.5 -.435"/><path class="ln m" d="M.0335 -.045L.2835 -.175L.5335 .04"/>
<path class="pt r" d="M-.0335 -.6h.0001M.2165 -.47h.0001M.4665 -.4h.0001"/><path class="pt s" d="M0 -.455h.0001M.25 -.525h.0001M.5 -.435h.0001"/><path class="pt m" d="M.0335 -.045h.0001M.2835 -.175h.0001M.5335 .04h.0001"/>
</g></g><use href="#bd"/></g>
<!-- Row 3 -->
<g id="p3-1" transform="translate(216.5 1290)"><use href="#bg"/><g clip-path="url(#cp)"><g transform="translate(47.5 170.5) scale(612 -310)">
<path class="eb r" d="M-.0335 -.29V-.07m-.008 0h.016M-.0415 -.29h.016M.2165 -.25V-.015m-.008 0h.016M.2085 -.25h.016M.4665 -.26V-.065m-.008 0h.016M.4585 -.26h.016"/>
<path class="eb s" d="M0 -.27V-.045m-.008 0h.016M-.008 -.27h.016M.25 -.23V-.015m-.008 0h.016M.242 -.23h.016M.5 -.25V-.065m-.008 0h.016M.492 -.25h.016"/>
<path class="eb m" d="M.0335 -.27V-.03m-.008 0h.016M.0255 -.27h.016M.2835 -.29V-.015m-.008 0h.016M.2755 -.29h.016M.5335 -.29V-.065m-.008 0h.016M.5255 -.29h.016"/>
<path class="ln r" d="M-.0335 -.205L.2165 -.14L.4665 -.165"/><path class="ln s" d="M0 -.19L.25 -.13L.5 -.11"/><path class="ln m" d="M.0335 -.185L.2835 -.145L.5335 -.19"/>
<path class="pt r" d="M-.0335 -.205h.0001M.2165 -.14h.0001M.4665 -.165h.0001"/><path class="pt s" d="M0 -.19h.0001M.25 -.13h.0001M.5 -.11h.0001"/><path class="pt m" d="M.0335 -.185h.0001M.2835 -.145h.0001M.5335 -.19h.0001"/>
</g></g><use href="#bd"/></g>
<g id="p3-2" transform="translate(642.5 1290)"><use href="#bg"/><g clip-path="url(#cp)"><g transform="translate(47.5 170.5) scale(612 -310)">
<path class="ln r" d="M-.0335 -.025L.2165 -.01L.4665 -.01"/><path class="ln s" d="M0 -.02L.25 -.01L.5 -.015"/><path class="ln m" d="M.0335 -.025L.2835 -.01L.5335 -.015"/>
<path class="pt r" d="M-.0335 -.025h.0001M.2165 -.01h.0001M.4665 -.01h.0001"/><path class="pt s" d="M0 -.02h.0001M.25 -.01h.0001M.5 -.015h.0001"/><path class="pt m" d="M.0335 -.025h.0001M.2835 -.01h.0001M.5335 -.015h.0001"/>
</g></g><use href="#bd"/></g>
<g id="p3-3" transform="translate(1068.5 1290)"><use href="#bg"/><g clip-path="url(#cp)"><g transform="translate(47.5 170.5) scale(612 -310)">
<path class="eb r" d="M-.0335 -1V1M.2165 .21V1M.2085 .21h.016M.4665 -.065V1M.4585 -.065h.016"/>
<path class="eb s" d="M0 -.11V1M-.008 -.11h.016M.25 .12V1M.242 .12h.016M.5 -.135V1M.492 -.135h.016"/>
<path class="eb m" d="M.0335 -.065V1M.0255 -.065h.016M.2835 .365V1M.2755 .365h.016M.5335 .06V1M.5255 .06h.016"/>
<path class="ln r" d="M-.0335 .35L.2165 .56L.4665 .49"/><path class="ln s" d="M0 .48L.25 .55L.5 .36"/><path class="ln m" d="M.0335 .54L.2835 .58L.5335 .55"/>
<path class="pt r" d="M-.0335 .35h.0001M.2165 .56h.0001M.4665 .49h.0001"/><path class="pt s" d="M0 .48h.0001M.25 .55h.0001M.5 .36h.0001"/><path class="pt m" d="M.0335 .54h.0001M.2835 .58h.0001M.5335 .55h.0001"/>
</g></g><use href="#bd"/></g>
<g id="p3-4" transform="translate(1494.5 1290)"><use href="#bg"/><g clip-path="url(#cp)"><g transform="translate(47.5 170.5) scale(612 -310)">
<path class="eb r" d="M-.0335 0V.21m-.008 0h.016M-.0415 0h.016M.2165 -.165V.125m-.008 0h.016M.2085 -.165h.016M.4665 -.39V.18m-.008 0h.016M.4585 -.39h.016"/>
<path class="eb s" d="M0 -.02V.215m-.008 0h.016M-.008 -.02h.016M.25 -.125V.17m-.008 0h.016M.242 -.125h.016M.5 -.07V.285m-.008 0h.016M.492 -.07h.016"/>
<path class="eb m" d="M.0335 -.025V.21m-.008 0h.016M.0255 -.025h.016M.2835 -.14V.17m-.008 0h.016M.2755 -.14h.016M.5335 -.26V.25m-.008 0h.016M.5255 -.26h.016"/>
<path class="ln r" d="M-.0335 .1L.2165 -.055L.4665 .02"/><path class="ln s" d="M0 .12L.25 -.02L.5 .105"/><path class="ln m" d="M.0335 .11L.2835 -.025L.5335 .05"/>
<path class="pt r" d="M-.0335 .1h.0001M.2165 -.055h.0001M.4665 .02h.0001"/><path class="pt s" d="M0 .12h.0001M.25 -.02h.0001M.5 .105h.0001"/><path class="pt m" d="M.0335 .11h.0001M.2835 -.025h.0001M.5335 .05h.0001"/>
</g></g><use href="#bd"/></g>
<g id="p3-5" transform="translate(1920.5 1290)"><use href="#bg"/><g clip-path="url(#cp)"><g transform="translate(47.5 170.5) scale(612 -310)">
<path class="eb r" d="M-.0335 -1V-.195m-.008 0h.016M.2165 -1V-.41m-.008 0h.016M.4665 -.31V-.07m-.008 0h.016M.4585 -.31h.016"/>
<path class="eb s" d="M0 -.3V-.01m-.008 0h.016M-.008 -.3h.016M.25 -.4V-.145m-.008 0h.016M.242 -.4h.016M.5 -.115V.06m-.008 0h.016M.492 -.115h.016"/>
<path class="eb m" d="M.0335 -1V-.215m-.008 0h.016M.2835 -1V-.36m-.008 0h.016M.5335 -.43V-.035m-.008 0h.016M.5255 -.43h.016"/>
<path class="ln r" d="M-.0335 -.44L.2165 -.54L.4665 -.175"/><path class="ln s" d="M0 -.14L.25 -.27L.5 -.035"/><path class="ln m" d="M.0335 -.49L.2835 -.48L.5335 -.195"/>
<path class="pt r" d="M-.0335 -.44h.0001M.2165 -.54h.0001M.4665 -.175h.0001"/><path class="pt s" d="M0 -.14h.0001M.25 -.27h.0001M.5 -.035h.0001"/><path class="pt m" d="M.0335 -.49h.0001M.2835 -.48h.0001M.5335 -.195h.0001"/>
</g></g><use href="#bd"/></g>
<g id="p3-6" transform="translate(2346.5 1290)"><use href="#bg"/><g clip-path="url(#cp)"><g transform="translate(47.5 170.5) scale(612 -310)">
<path class="eb r" d="M.4665 -1V-.52m-.008 0h.016"/>
<path class="eb s" d="M0 -.115V.06m-.008 0h.016M-.008 -.115h.016M.25 -.055V.035m-.008 0h.016M.242 -.055h.016M.5 -.065V.09m-.008 0h.016M.492 -.065h.016"/>
<path class="eb m" d="M.0335 -1V-.26m-.008 0h.016M.2835 -.51V-.205m-.008 0h.016M.2755 -.51h.016M.5335 -1V-.275m-.008 0h.016"/>
<path class="ln s" d="M0 -.035L.25 0L.5 .03"/><path class="ln m" d="M.0335 -.365L.2835 -.38L.5335 -.41"/>
<path class="pt s" d="M0 -.035h.0001M.25 0h.0001M.5 .03h.0001"/><path class="pt m" d="M.0335 -.365h.0001M.2835 -.38h.0001M.5335 -.41h.0001"/>
</g></g><use href="#bd"/></g>
<g id="p3-7" transform="translate(2772.5 1290)"><use href="#bg"/><g clip-path="url(#cp)"><g transform="translate(47.5 170.5) scale(612 -310)">
<path class="eb s" d="M.25 -1V.27m-.008 0h.016M.5 -1V.06m-.008 0h.016"/>
</g></g><use href="#bd"/></g>
<g id="p3-8" transform="translate(3198.5 1290)"><use href="#bg"/><g clip-path="url(#cp)"><g transform="translate(47.5 170.5) scale(612 -310)">
<path class="eb s" d="M0 -.425V.41m-.008 0h.016M-.008 -.425h.016M.25 .07V1M.242 .07h.016M.5 -.335V.24m-.008 0h.016M.492 -.335h.016"/>
<path class="ln s" d="M0 -.035L.25 .29L.5 -.035"/>
<path class="pt s" d="M0 -.035h.0001M.25 .29h.0001M.5 -.035h.0001"/>
</g></g><use href="#bd"/></g>
<g id="p3-9" transform="translate(3624.5 1290)"><use href="#bg"/><g clip-path="url(#cp)"><g transform="translate(47.5 170.5) scale(612 -310)">
<path class="eb r" d="M-.0335 -.31V-.115m-.008 0h.016M-.0415 -.31h.016M.2165 -.245V0m-.008 0h.016M.2085 -.245h.016M.4665 -.145V.08m-.008 0h.016M.4585 -.145h.016"/>
<path class="eb s" d="M0 -.28V-.065m-.008 0h.016M-.008 -.28h.016M.25 -.265V0m-.008 0h.016M.242 -.265h.016M.5 -.145V.09m-.008 0h.016M.492 -.145h.016"/>
<path class="eb m" d="M.0335 -.325V-.045m-.008 0h.016M.0255 -.325h.016M.2835 -.24V0m-.008 0h.016M.2755 -.24h.016M.5335 -.185V.09m-.008 0h.016M.5255 -.185h.016"/>
<path class="ln r" d="M-.0335 -.215L.2165 -.09L.4665 -.06"/><path class="ln s" d="M0 -.195L.25 -.095L.5 -.055"/><path class="ln m" d="M.0335 -.185L.2835 -.035L.5335 -.06"/>
<path class="pt r" d="M-.0335 -.215h.0001M.2165 -.09h.0001M.4665 -.06h.0001"/><path class="pt s" d="M0 -.195h.0001M.25 -.095h.0001M.5 -.055h.0001"/><path class="pt m" d="M.0335 -.185h.0001M.2835 -.035h.0001M.5335 -.06h.0001"/>
</g></g><use href="#bd"/></g>
<g id="p3-10" transform="translate(4050.5 1290)"><use href="#bg"/><g clip-path="url(#cp)"><g transform="translate(47.5 170.5) scale(612 -310)">
<path class="ln r" d="M-.0335 .015L.2165 .005L.4665 .04"/><path class="ln s" d="M0 .01L.25 .015L.5 .055"/><path class="ln m" d="M.0335 .04L.2835 .035L.5335 .055"/>
<path class="pt r" d="M-.0335 .015h.0001M.2165 .005h.0001M.4665 .04h.0001"/><path class="pt s" d="M0 .01h.0001M.25 .015h.0001M.5 .055h.0001"/><path class="pt m" d="M.0335 .04h.0001M.2835 .035h.0001M.5335 .055h.0001"/>
</g></g><use href="#bd"/></g>
<g id="p3-11" transform="translate(4476.5 1290)"><use href="#bg"/><g clip-path="url(#cp)"><g transform="translate(47.5 170.5) scale(612 -310)">
<path class="eb r" d="M-.0335 -1V.135m-.008 0h.016M.2165 -1V.335m-.008 0h.016M.4665 -1V1"/>
<path class="eb s" d="M0 -1V.45m-.008 0h.016M.25 -1V.15m-.008 0h.016M.5 -1V.455m-.008 0h.016"/>
<path class="eb m" d="M.0335 -1V.27m-.008 0h.016M.2835 -1V.34m-.008 0h.016M.5335 -1V1"/>
<path class="ln r" d="M-.0335 -.41L.2165 -.62L.4665 -.185"/><path class="ln s" d="M0 -.1L.25 -.31L.5 -.185"/><path class="ln m" d="M.0335 -.365L.2835 -.32L.5335 -.185"/>
<path class="pt r" d="M-.0335 -.41h.0001M.2165 -.62h.0001M.4665 -.185h.0001"/><path class="pt s" d="M0 -.1h.0001M.25 -.31h.0001M.5 -.185h.0001"/><path class="pt m" d="M.0335 -.365h.0001M.2835 -.32h.0001M.5335 -.185h.0001"/>
</g></g><use href="#bd"/></g>
<g id="p3-12" transform="translate(4902.5 1290)"><use href="#bg"/><g clip-path="url(#cp)"><g transform="translate(47.5 170.5) scale(612 -310)">
<path class="eb r" d="M.4665 -1V-.47m-.008 0h.016"/>
<path class="eb s" d="M0 -1V-.425m-.008 0h.016M.25 -1V-.5m-.008 0h.016M.5 -1V-.4m-.008 0h.016"/>
<path class="eb m" d="M.0335 -.28V.125m-.008 0h.016M.0255 -.28h.016M.2835 -.51V-.135m-.008 0h.016M.2755 -.51h.016M.5335 -.365V-.05m-.008 0h.016M.5255 -.365h.016"/>
<path class="ln r" d="M-.0335 -.7L.2165 -.65L.4665 -.555"/><path class="ln s" d="M0 -.65L.25 -.555L.5 -.53"/><path class="ln m" d="M.0335 0L.2835 -.3L.5335 -.175"/>
<path class="pt r" d="M-.0335 -.7h.0001M.2165 -.65h.0001M.4665 -.555h.0001"/><path class="pt s" d="M0 -.65h.0001M.25 -.555h.0001M.5 -.53h.0001"/><path class="pt m" d="M.0335 0h.0001M.2835 -.3h.0001M.5335 -.175h.0001"/>
</g></g><use href="#bd"/></g>
<!-- Row 4 -->
<g id="p4-1" transform="translate(216.5 1656)"><use href="#bg"/><g clip-path="url(#cp)"><g transform="translate(47.5 170.5) scale(612 -310)">
<path class="eb r" d="M-.0335 -.235V-.05m-.008 0h.016M-.0415 -.235h.016M.2165 -.105V.06m-.008 0h.016M.2085 -.105h.016M.4665 -.115V.05m-.008 0h.016M.4585 -.115h.016"/>
<path class="eb s" d="M0 -.235V-.05m-.008 0h.016M-.008 -.235h.016M.25 -.1V.06m-.008 0h.016M.242 -.1h.016M.5 -.115V.055m-.008 0h.016M.492 -.115h.016"/>
<path class="eb m" d="M.0335 -.32V-.015m-.008 0h.016M.0255 -.32h.016M.2835 -.145V.05m-.008 0h.016M.2755 -.145h.016M.5335 -.145V.045m-.008 0h.016M.5255 -.145h.016"/>
<path class="ln r" d="M-.0335 -.125L.2165 -.025L.4665 -.04"/><path class="ln s" d="M0 -.125L.25 -.02L.5 -.035"/><path class="ln m" d="M.0335 -.145L.2835 -.04L.5335 -.05"/>
<path class="pt r" d="M-.0335 -.125h.0001M.2165 -.025h.0001M.4665 -.04h.0001"/><path class="pt s" d="M0 -.125h.0001M.25 -.02h.0001M.5 -.035h.0001"/><path class="pt m" d="M.0335 -.145h.0001M.2835 -.04h.0001M.5335 -.05h.0001"/>
</g></g><use href="#bd"/></g>
<g id="p4-2" transform="translate(642.5 1656)"><use href="#bg"/><g clip-path="url(#cp)"><g transform="translate(47.5 170.5) scale(612 -310)">
<path class="ln r" d="M-.0335 0L.2165 -.02L.4665 0"/><path class="ln s" d="M0 -.005L.25 -.025L.5 -.005"/><path class="ln m" d="M.0335 -.01L.2835 -.025L.5335 0"/>
<path class="pt r" d="M-.0335 0h.0001M.2165 -.02h.0001M.4665 0h.0001"/><path class="pt s" d="M0 -.005h.0001M.25 -.025h.0001M.5 -.005h.0001"/><path class="pt m" d="M.0335 -.01h.0001M.2835 -.025h.0001M.5335 0h.0001"/>
</g></g><use href="#bd"/></g>
<g id="p4-3" transform="translate(1068.5 1656)"><use href="#bg"/><g clip-path="url(#cp)"><g transform="translate(47.5 170.5) scale(612 -310)">
<path class="eb r" d="M-.0335 -1V1M.2165 -.52V1M.2085 -.52h.016M.4665 -.205V1M.4585 -.205h.016"/>
<path class="eb s" d="M0 -1V1M.25 -.41V1M.242 -.41h.016M.5 .11V1M.492 .11h.016"/>
<path class="eb m" d="M.0335 -.44V1M.0255 -.44h.016M.2835 -.41V1M.2755 -.41h.016M.5335 -.235V1M.5255 -.235h.016"/>
<path class="ln r" d="M-.0335 .42L.2165 .14L.4665 .3"/><path class="ln s" d="M0 .035L.25 .19L.5 .315"/><path class="ln m" d="M.0335 .58L.2835 .4L.5335 .23"/>
<path class="pt r" d="M-.0335 .42h.0001M.2165 .14h.0001M.4665 .3h.0001"/><path class="pt s" d="M0 .035h.0001M.25 .19h.0001M.5 .315h.0001"/><path class="pt m" d="M.0335 .58h.0001M.2835 .4h.0001M.5335 .23h.0001"/>
</g></g><use href="#bd"/></g>
<g id="p4-4" transform="translate(1494.5 1656)"><use href="#bg"/><g clip-path="url(#cp)"><g transform="translate(47.5 170.5) scale(612 -310)">
<path class="eb r" d="M-.0335 -.115V.125m-.008 0h.016M-.0415 -.115h.016M.2165 -.065V.2m-.008 0h.016M.2085 -.065h.016M.4665 -.325V.075m-.008 0h.016M.4585 -.325h.016"/>
<path class="eb s" d="M0 -.09V.125m-.008 0h.016M-.008 -.09h.016M.25 -.035V.235m-.008 0h.016M.242 -.035h.016M.5 -.235V.165m-.008 0h.016M.492 -.235h.016"/>
<path class="eb m" d="M.0335 -.09V.125m-.008 0h.016M.0255 -.09h.016M.2835 -.04V.255m-.008 0h.016M.2755 -.04h.016M.5335 -.325V.075m-.008 0h.016M.5255 -.325h.016"/>
<path class="ln r" d="M-.0335 .035L.2165 .035L.4665 -.165"/><path class="ln s" d="M0 .05L.25 .05L.5 -.04"/><path class="ln m" d="M.0335 .05L.2835 .065L.5335 -.165"/>
<path class="pt r" d="M-.0335 .035h.0001M.2165 .035h.0001M.4665 -.165h.0001"/><path class="pt s" d="M0 .05h.0001M.25 .05h.0001M.5 -.04h.0001"/><path class="pt m" d="M.0335 .05h.0001M.2835 .065h.0001M.5335 -.165h.0001"/>
</g></g><use href="#bd"/></g>
<g id="p4-5" transform="translate(1920.5 1656)"><use href="#bg"/><g clip-path="url(#cp)"><g transform="translate(47.5 170.5) scale(612 -310)">
<path class="eb r" d="M-.0335 -1V-.28m-.008 0h.016M.2165 -1V-.26m-.008 0h.016M.4665 -1V-.125m-.008 0h.016"/>
<path class="eb s" d="M0 -1V.005m-.008 0h.016M.25 -.45V-.025m-.008 0h.016M.242 -.45h.016M.5 -.265V.08m-.008 0h.016M.492 -.265h.016"/>
<path class="eb m" d="M.0335 -1V.045m-.008 0h.016M.2835 -1V-.255m-.008 0h.016M.5335 -1V-.085m-.008 0h.016"/>
<path class="ln r" d="M-.0335 -.51L.2165 -.455L.4665 -.275"/><path class="ln s" d="M0 -.305L.25 -.215L.5 -.085"/><path class="ln m" d="M.0335 -.105L.2835 -.455L.5335 -.27"/>
<path class="pt r" d="M-.0335 -.51h.0001M.2165 -.455h.0001M.4665 -.275h.0001"/><path class="pt s" d="M0 -.305h.0001M.25 -.215h.0001M.5 -.085h.0001"/><path class="pt m" d="M.0335 -.105h.0001M.2835 -.455h.0001M.5335 -.27h.0001"/>
</g></g><use href="#bd"/></g>
<g id="p4-6" transform="translate(2346.5 1656)"><use href="#bg"/><g clip-path="url(#cp)"><g transform="translate(47.5 170.5) scale(612 -310)">
<path class="eb r" d="M-.0335 -1V-.28m-.008 0h.016M.4665 -1V-.51m-.008 0h.016"/>
<path class="eb s" d="M0 -.07V.1m-.008 0h.016M-.008 -.07h.016M.25 -.19V-.035m-.008 0h.016M.242 -.19h.016M.5 -.1V.065m-.008 0h.016M.492 -.1h.016"/>
<path class="eb m" d="M.0335 -.38V-.095m-.008 0h.016M.0255 -.38h.016M.2835 -.49V-.205m-.008 0h.016M.2755 -.49h.016M.5335 -.45V-.23m-.008 0h.016M.5255 -.45h.016"/>
<path class="ln r" d="M-.0335 -.52L.2165 -.8L.4665 -.7"/><path class="ln s" d="M0 .03L.25 -.13L.5 -.01"/><path class="ln m" d="M.0335 -.23L.2835 -.355L.5335 -.35"/>
<path class="pt r" d="M-.0335 -.52h.0001M.2165 -.8h.0001M.4665 -.7h.0001"/><path class="pt s" d="M0 .03h.0001M.25 -.13h.0001M.5 -.01h.0001"/><path class="pt m" d="M.0335 -.23h.0001M.2835 -.355h.0001M.5335 -.35h.0001"/>
</g></g><use href="#bd"/></g>
<g id="p4-7" transform="translate(2772.5 1656)"><use href="#bg"/><g clip-path="url(#cp)"><g transform="translate(47.5 170.5) scale(612 -310)">
<path class="eb s" d="M0 -1V-.08m-.008 0h.016M.25 -1V.49m-.008 0h.016M.5 -1V.02m-.008 0h.016"/>
<path class="ln s" d="M0 -1.4L.25 -.35L.5 -.615"/>
<path class="pt s" d="M0 -1.4h.0001M.25 -.35h.0001M.5 -.615h.0001"/>
</g></g><use href="#bd"/></g>
<g id="p4-8" transform="translate(3198.5 1656)"><use href="#bg"/><g clip-path="url(#cp)"><g transform="translate(47.5 170.5) scale(612 -310)">
<path class="eb s" d="M0 -1V.405m-.008 0h.016M.25 -.07V.525m-.008 0h.016M.242 -.07h.016M.5 -.35V.29m-.008 0h.016M.492 -.35h.016"/>
<path class="ln s" d="M0 -.03L.25 .33L.5 .02"/>
<path class="pt s" d="M0 -.03h.0001M.25 .33h.0001M.5 .02h.0001"/>
</g></g><use href="#bd"/></g>
<g id="p4-9" transform="translate(3624.5 1656)"><use href="#bg"/><g clip-path="url(#cp)"><g transform="translate(47.5 170.5) scale(612 -310)">
<path class="eb r" d="M-.0335 -.255V-.04m-.008 0h.016M-.0415 -.255h.016M.2165 -.25V.04m-.008 0h.016M.2085 -.25h.016M.4665 -.175V.075m-.008 0h.016M.4585 -.175h.016"/>
<path class="eb s" d="M0 -.25V-.04m-.008 0h.016M-.008 -.25h.016M.25 -.205V.07m-.008 0h.016M.242 -.205h.016M.5 -.16V.105m-.008 0h.016M.492 -.16h.016"/>
<path class="eb m" d="M.0335 -.425V-.115m-.008 0h.016M.0255 -.425h.016M.2835 -.425V-.025m-.008 0h.016M.2755 -.425h.016M.5335 -.22V.14m-.008 0h.016M.5255 -.22h.016"/>
<path class="ln r" d="M-.0335 -.13L.2165 -.085L.4665 -.025"/><path class="ln s" d="M0 -.13L.25 -.055L.5 -.015"/><path class="ln m" d="M.0335 -.19L.2835 -.195L.5335 -.015"/>
<path class="pt r" d="M-.0335 -.13h.0001M.2165 -.085h.0001M.4665 -.025h.0001"/><path class="pt s" d="M0 -.13h.0001M.25 -.055h.0001M.5 -.015h.0001"/><path class="pt m" d="M.0335 -.19h.0001M.2835 -.195h.0001M.5335 -.015h.0001"/>
</g></g><use href="#bd"/></g>
<g id="p4-10" transform="translate(4050.5 1656)"><use href="#bg"/><g clip-path="url(#cp)"><g transform="translate(47.5 170.5) scale(612 -310)">
<path class="ln r" d="M-.0335 .045L.2165 .01L.4665 0"/><path class="ln s" d="M0 .04L.25 .015L.5 0"/><path class="ln m" d="M.0335 .05L.2835 .005L.5335 .01"/>
<path class="pt r" d="M-.0335 .045h.0001M.2165 .01h.0001M.4665 0h.0001"/><path class="pt s" d="M0 .04h.0001M.25 .015h.0001M.5 0h.0001"/><path class="pt m" d="M.0335 .05h.0001M.2835 .005h.0001M.5335 .01h.0001"/>
</g></g><use href="#bd"/></g>
<g id="p4-11" transform="translate(4476.5 1656)"><use href="#bg"/><g clip-path="url(#cp)"><g transform="translate(47.5 170.5) scale(612 -310)">
<path class="eb r" d="M-.0335 -1V1M.2165 -1V1M.4665 -.47V.39m-.008 0h.016M.4585 -.47h.016"/>
<path class="eb s" d="M0 -.19V.53m-.008 0h.016M-.008 -.19h.016M.25 -1V.535m-.008 0h.016M.5 -1V.25m-.008 0h.016"/>
<path class="eb m" d="M.0335 -.41V1M.0255 -.41h.016M.2835 -.31V1M.2755 -.31h.016M.5335 -.49V.385m-.008 0h.016M.5255 -.49h.016"/>
<path class="ln r" d="M-.0335 .125L.2165 .25L.4665 -.13"/><path class="ln s" d="M0 .17L.25 .24L.5 -.155"/><path class="ln m" d="M.0335 .14L.2835 .33L.5335 -.13"/>
<path class="pt r" d="M-.0335 .125h.0001M.2165 .25h.0001M.4665 -.13h.0001"/><path class="pt s" d="M0 .17h.0001M.25 .24h.0001M.5 -.155h.0001"/><path class="pt m" d="M.0335 .14h.0001M.2835 .33h.0001M.5335 -.13h.0001"/>
</g></g><use href="#bd"/></g>
<g id="p4-12" transform="translate(4902.5 1656)"><use href="#bg"/><g clip-path="url(#cp)"><g transform="translate(47.5 170.5) scale(612 -310)">
<path class="eb r" d="M.4665 -1V-.3m-.008 0h.016"/>
<path class="eb s" d="M0 -1V-.38m-.008 0h.016M.25 -1V-.16m-.008 0h.016M.5 -1V-.18m-.008 0h.016"/>
<path class="eb m" d="M.0335 -.395V.08m-.008 0h.016M.0255 -.395h.016M.2835 -.215V.22m-.008 0h.016M.2755 -.215h.016M.5335 -.225V.21m-.008 0h.016M.5255 -.225h.016"/>
<path class="ln r" d="M-.0335 -.8L.2165 -.7L.4665 -.51"/><path class="ln s" d="M0 -.54L.25 -.455L.5 -.29"/><path class="ln m" d="M.0335 -.225L.2835 .095L.5335 .06"/>
<path class="pt r" d="M-.0335 -.8h.0001M.2165 -.7h.0001M.4665 -.51h.0001"/><path class="pt s" d="M0 -.54h.0001M.25 -.455h.0001M.5 -.29h.0001"/><path class="pt m" d="M.0335 -.225h.0001M.2835 .095h.0001M.5335 .06h.0001"/>
</g></g><use href="#bd"/></g>
<!-- Row 5 -->
<g id="p5-1" transform="translate(216.5 2022)"><use href="#bg"/><g clip-path="url(#cp)"><g transform="translate(47.5 170.5) scale(612 -310)">
<path class="eb r" d="M-.0335 -.165V.03m-.008 0h.016M-.0415 -.165h.016M.2165 -.325V-.01m-.008 0h.016M.2085 -.325h.016M.4665 -.12V.04m-.008 0h.016M.4585 -.12h.016"/>
<path class="eb s" d="M0 -.205V.03m-.008 0h.016M-.008 -.205h.016M.25 -.29V-.04m-.008 0h.016M.242 -.29h.016M.5 -.155V.04m-.008 0h.016M.492 -.155h.016"/>
<path class="eb m" d="M.0335 -.19V.035m-.008 0h.016M.0255 -.19h.016M.2835 -.26V.07m-.008 0h.016M.2755 -.26h.016M.5335 -.155V.04m-.008 0h.016M.5255 -.155h.016"/>
<path class="ln r" d="M-.0335 -.07L.2165 -.125L.4665 0"/><path class="ln s" d="M0 -.05L.25 -.16L.5 -.065"/><path class="ln m" d="M.0335 -.055L.2835 -.045L.5335 -.07"/>
<path class="pt r" d="M-.0335 -.07h.0001M.2165 -.125h.0001M.4665 0h.0001"/><path class="pt s" d="M0 -.05h.0001M.25 -.16h.0001M.5 -.065h.0001"/><path class="pt m" d="M.0335 -.055h.0001M.2835 -.045h.0001M.5335 -.07h.0001"/>
</g></g><use href="#bd"/></g>
<g id="p5-2" transform="translate(642.5 2022)"><use href="#bg"/><g clip-path="url(#cp)"><g transform="translate(47.5 170.5) scale(612 -310)">
<path class="ln r" d="M-.0335 0L.2165 -.03L.4665 0"/><path class="ln s" d="M0 -.01L.25 0L.5 0"/><path class="ln m" d="M.0335 .005L.2835 0L.5335 .015"/>
<path class="pt r" d="M-.0335 0h.0001M.2165 -.03h.0001M.4665 0h.0001"/><path class="pt s" d="M0 -.01h.0001M.25 0h.0001M.5 0h.0001"/><path class="pt m" d="M.0335 .005h.0001M.2835 0h.0001M.5335 .015h.0001"/>
</g></g><use href="#bd"/></g>
<g id="p5-3" transform="translate(1068.5 2022)"><use href="#bg"/><g clip-path="url(#cp)"><g transform="translate(47.5 170.5) scale(612 -310)">
<path class="eb r" d="M-.0335 -.275V1M-.0415 -.275h.016M.2165 .01V1M.2085 .01h.016M.4665 -1V1"/>
<path class="eb s" d="M0 -.28V1M-.008 -.28h.016M.25 -.115V1M.242 -.115h.016M.5 -1V1"/>
<path class="eb m" d="M.0335 -.125V1M.0255 -.125h.016M.2835 .095V1M.2755 .095h.016M.5335 .16V1M.5255 .16h.016"/>
<path class="ln r" d="M-.0335 .135L.2165 .46L.4665 .6"/><path class="ln s" d="M0 .135L.25 .13L.5 .495"/><path class="ln m" d="M.0335 .385L.2835 .57L.5335 .65"/>
<path class="pt r" d="M-.0335 .135h.0001M.2165 .46h.0001M.4665 .6h.0001"/><path class="pt s" d="M0 .135h.0001M.25 .13h.0001M.5 .495h.0001"/><path class="pt m" d="M.0335 .385h.0001M.2835 .57h.0001M.5335 .65h.0001"/>
</g></g><use href="#bd"/></g>
<g id="p5-4" transform="translate(1494.5 2022)"><use href="#bg"/><g clip-path="url(#cp)"><g transform="translate(47.5 170.5) scale(612 -310)">
<path class="eb r" d="M-.0335 -.23V.2m-.008 0h.016M-.0415 -.23h.016M.2165 -.04V.27m-.008 0h.016M.2085 -.04h.016M.4665 -.19V.18m-.008 0h.016M.4585 -.19h.016"/>
<path class="eb s" d="M0 -.23V.125m-.008 0h.016M-.008 -.23h.016M.25 .06V.29m-.008 0h.016M.242 .06h.016M.5 -.2V.15m-.008 0h.016M.492 -.2h.016"/>
<path class="eb m" d="M.0335 -.2V.255m-.008 0h.016M.0255 -.2h.016M.2835 -.055V.27m-.008 0h.016M.2755 -.055h.016M.5335 -.175V.195m-.008 0h.016M.5255 -.175h.016"/>
<path class="ln r" d="M-.0335 -.08L.2165 .15L.4665 .08"/><path class="ln s" d="M0 -.095L.25 .2L.5 .035"/><path class="ln m" d="M.0335 -.045L.2835 .125L.5335 .105"/>
<path class="pt r" d="M-.0335 -.08h.0001M.2165 .15h.0001M.4665 .08h.0001"/><path class="pt s" d="M0 -.095h.0001M.25 .2h.0001M.5 .035h.0001"/><path class="pt m" d="M.0335 -.045h.0001M.2835 .125h.0001M.5335 .105h.0001"/>
</g></g><use href="#bd"/></g>
<g id="p5-5" transform="translate(1920.5 2022)"><use href="#bg"/><g clip-path="url(#cp)"><g transform="translate(47.5 170.5) scale(612 -310)">
<path class="eb r" d="M-.0335 -1V-.01m-.008 0h.016M.2165 -1V-.01m-.008 0h.016M.4665 -1V-.11m-.008 0h.016"/>
<path class="eb s" d="M0 -.48V-.055m-.008 0h.016M-.008 -.48h.016M.25 -.425V-.045m-.008 0h.016M.242 -.425h.016M.5 -.355V-.045m-.008 0h.016M.492 -.355h.016"/>
<path class="eb m" d="M.0335 -1V-.065m-.008 0h.016M.2835 -1V.11m-.008 0h.016M.5335 -1V-.105m-.008 0h.016"/>
<path class="ln r" d="M-.0335 -.255L.2165 -.295L.4665 -.335"/><path class="ln s" d="M0 -.135L.25 -.195L.5 -.22"/><path class="ln m" d="M.0335 -.27L.2835 -.065L.5335 -.305"/>
<path class="pt r" d="M-.0335 -.255h.0001M.2165 -.295h.0001M.4665 -.335h.0001"/><path class="pt s" d="M0 -.135h.0001M.25 -.195h.0001M.5 -.22h.0001"/><path class="pt m" d="M.0335 -.27h.0001M.2835 -.065h.0001M.5335 -.305h.0001"/>
</g></g><use href="#bd"/></g>
<g id="p5-6" transform="translate(2346.5 2022)"><use href="#bg"/><g clip-path="url(#cp)"><g transform="translate(47.5 170.5) scale(612 -310)">
<path class="eb r" d="M-.0335 -1V.35m-.008 0h.016M.2165 -1V-.325m-.008 0h.016M.4665 -1V-.235m-.008 0h.016"/>
<path class="eb s" d="M0 -.205V-.01m-.008 0h.016M-.008 -.205h.016M.25 -.085V.02m-.008 0h.016M.242 -.085h.016M.5 -.115V.08m-.008 0h.016M.492 -.115h.016"/>
<path class="eb m" d="M.0335 -1V.28m-.008 0h.016M.2835 -1V-.1m-.008 0h.016M.5335 -1V-.38m-.008 0h.016"/>
<path class="ln r" d="M-.0335 -.165L.2165 -.86L.4665 -.51"/><path class="ln s" d="M0 -.095L.25 -.01L.5 -.025"/><path class="ln m" d="M.0335 -.485L.2835 -.56L.5335 -.7"/>
<path class="pt r" d="M-.0335 -.165h.0001M.2165 -.86h.0001M.4665 -.51h.0001"/><path class="pt s" d="M0 -.095h.0001M.25 -.01h.0001M.5 -.025h.0001"/><path class="pt m" d="M.0335 -.485h.0001M.2835 -.56h.0001M.5335 -.7h.0001"/>
</g></g><use href="#bd"/></g>
<g id="p5-7" transform="translate(2772.5 2022)"><use href="#bg"/><g clip-path="url(#cp)"><g transform="translate(47.5 170.5) scale(612 -310)">
<path class="eb s" d="M0 -1V1M.25 -1V1M.5 -.47V1M.492 -.47h.016"/>
<path class="ln s" d="M0 .375L.25 -.455L.5 .515"/>
<path class="pt s" d="M0 .375h.0001M.25 -.455h.0001M.5 .515h.0001"/>
</g></g><use href="#bd"/></g>
<g id="p5-8" transform="translate(3198.5 2022)"><use href="#bg"/><g clip-path="url(#cp)"><g transform="translate(47.5 170.5) scale(612 -310)">
<path class="eb s" d="M0 -.085V1M-.008 -.085h.016M.25 -.31V.475m-.008 0h.016M.242 -.31h.016M.5 -.025V1M.492 -.025h.016"/>
<path class="eb m" d="M.2835 -1V-.395m-.008 0h.016"/>
<path class="ln s" d="M0 .165L.25 .18L.5 .375"/>
<path class="pt s" d="M0 .165h.0001M.25 .18h.0001M.5 .375h.0001"/>
</g></g><use href="#bd"/></g>
<g id="p5-9" transform="translate(3624.5 2022)"><use href="#bg"/><g clip-path="url(#cp)"><g transform="translate(47.5 170.5) scale(612 -310)">
<path class="eb r" d="M-.0335 -.215V.135m-.008 0h.016M-.0415 -.215h.016M.2165 -.125V.225m-.008 0h.016M.2085 -.125h.016M.4665 -.12V.09m-.008 0h.016M.4585 -.12h.016"/>
<path class="eb s" d="M0 -.205V.135m-.008 0h.016M-.008 -.205h.016M.25 -.125V.13m-.008 0h.016M.242 -.125h.016M.5 -.23V.015m-.008 0h.016M.492 -.23h.016"/>
<path class="eb m" d="M.0335 -.29V.11m-.008 0h.016M.0255 -.29h.016M.2835 -.13V.25m-.008 0h.016M.2755 -.13h.016M.5335 -.205V.11m-.008 0h.016M.5255 -.205h.016"/>
<path class="ln r" d="M-.0335 .03L.2165 .035L.4665 -.035"/><path class="ln s" d="M0 .02L.25 -.035L.5 -.11"/><path class="ln m" d="M.0335 -.01L.2835 .06L.5335 -.04"/>
<path class="pt r" d="M-.0335 .03h.0001M.2165 .035h.0001M.4665 -.035h.0001"/><path class="pt s" d="M0 .02h.0001M.25 -.035h.0001M.5 -.11h.0001"/><path class="pt m" d="M.0335 -.01h.0001M.2835 .06h.0001M.5335 -.04h.0001"/>
</g></g><use href="#bd"/></g>
<g id="p5-10" transform="translate(4050.5 2022)"><use href="#bg"/><g clip-path="url(#cp)"><g transform="translate(47.5 170.5) scale(612 -310)">
<path class="ln r" d="M-.0335 .005L.2165 .03L.4665 .03"/><path class="ln s" d="M0 .03L.25 .01L.5 .015"/><path class="ln m" d="M.0335 .02L.2835 .015L.5335 .02"/>
<path class="pt r" d="M-.0335 .005h.0001M.2165 .03h.0001M.4665 .03h.0001"/><path class="pt s" d="M0 .03h.0001M.25 .01h.0001M.5 .015h.0001"/><path class="pt m" d="M.0335 .02h.0001M.2835 .015h.0001M.5335 .02h.0001"/>
</g></g><use href="#bd"/></g>
<g id="p5-11" transform="translate(4476.5 2022)"><use href="#bg"/><g clip-path="url(#cp)"><g transform="translate(47.5 170.5) scale(612 -310)">
<path class="eb r" d="M-.0335 -.06V1M-.0415 -.06h.016M.2165 -.205V1M.2085 -.205h.016M.4665 -.46V1M.4585 -.46h.016"/>
<path class="eb s" d="M0 -1V-.01m-.008 0h.016M.25 -.19V1M.242 -.19h.016M.5 -.155V1M.492 -.155h.016"/>
<path class="eb m" d="M.0335 -.36V1M.0255 -.36h.016M.2835 -.19V1M.2755 -.19h.016M.5335 -.27V1M.5255 -.27h.016"/>
<path class="ln r" d="M-.0335 .6L.2165 .33L.4665 .37"/><path class="ln s" d="M0 -.38L.25 .295L.5 .34"/><path class="ln m" d="M.0335 .375L.2835 .63L.5335 .365"/>
<path class="pt r" d="M-.0335 .6h.0001M.2165 .33h.0001M.4665 .37h.0001"/><path class="pt s" d="M0 -.38h.0001M.25 .295h.0001M.5 .34h.0001"/><path class="pt m" d="M.0335 .375h.0001M.2835 .63h.0001M.5335 .365h.0001"/>
</g></g><use href="#bd"/></g>
<g id="p5-12" transform="translate(4902.5 2022)"><use href="#bg"/><g clip-path="url(#cp)"><g transform="translate(47.5 170.5) scale(612 -310)">
<path class="eb r" d="M-.0335 -.49V-.045m-.008 0h.016M-.0415 -.49h.016M.2165 -1V.01m-.008 0h.016M.4665 -.46V.325m-.008 0h.016M.4585 -.46h.016"/>
<path class="eb s" d="M0 -.295V.11m-.008 0h.016M-.008 -.295h.016M.25 -1V.025m-.008 0h.016M.5 -.43V.19m-.008 0h.016M.492 -.43h.016"/>
<path class="eb m" d="M.0335 -.29V.11m-.008 0h.016M.0255 -.29h.016M.2835 -.25V.14m-.008 0h.016M.2755 -.25h.016M.5335 -.265V.355m-.008 0h.016M.5255 -.265h.016"/>
<path class="ln r" d="M-.0335 -.16L.2165 -.125L.4665 .02"/><path class="ln s" d="M0 -.085L.25 -.155L.5 -.015"/><path class="ln m" d="M.0335 -.05L.2835 .01L.5335 .095"/>
<path class="pt r" d="M-.0335 -.16h.0001M.2165 -.125h.0001M.4665 .02h.0001"/><path class="pt s" d="M0 -.085h.0001M.25 -.155h.0001M.5 -.015h.0001"/><path class="pt m" d="M.0335 -.05h.0001M.2835 .01h.0001M.5335 .095h.0001"/>
</g></g><use href="#bd"/></g>
<!-- Row 6 -->
<g id="p6-1" transform="translate(216.5 2388)"><use href="#bg"/><g clip-path="url(#cp)"><g transform="translate(47.5 170.5) scale(612 -310)">
<path class="eb r" d="M-.0335 -.175V.015m-.008 0h.016M-.0415 -.175h.016M.2165 -.11V.15m-.008 0h.016M.2085 -.11h.016M.4665 -.315V.01m-.008 0h.016M.4585 -.315h.016"/>
<path class="eb s" d="M0 -.19V-.015m-.008 0h.016M-.008 -.19h.016M.25 -.18V.04m-.008 0h.016M.242 -.18h.016M.5 -.205V.05m-.008 0h.016M.492 -.205h.016"/>
<path class="eb m" d="M.0335 -.355V.005m-.008 0h.016M.0255 -.355h.016M.2835 -.095V.15m-.008 0h.016M.2755 -.095h.016M.5335 -.205V.05m-.008 0h.016M.5255 -.205h.016"/>
<path class="ln r" d="M-.0335 -.09L.2165 -.025L.4665 -.105"/><path class="ln s" d="M0 -.09L.25 -.085L.5 -.05"/><path class="ln m" d="M.0335 -.135L.2835 0L.5335 -.04"/>
<path class="pt r" d="M-.0335 -.09h.0001M.2165 -.025h.0001M.4665 -.105h.0001"/><path class="pt s" d="M0 -.09h.0001M.25 -.085h.0001M.5 -.05h.0001"/><path class="pt m" d="M.0335 -.135h.0001M.2835 0h.0001M.5335 -.04h.0001"/>
</g></g><use href="#bd"/></g>
<g id="p6-2" transform="translate(642.5 2388)"><use href="#bg"/><g clip-path="url(#cp)"><g transform="translate(47.5 170.5) scale(612 -310)">
<path class="ln r" d="M-.0335 .005L.2165 -.015L.4665 -.055"/><path class="ln s" d="M0 .01L.25 -.025L.5 -.05"/><path class="ln m" d="M.0335 0L.2835 -.015L.5335 -.055"/>
<path class="pt r" d="M-.0335 .005h.0001M.2165 -.015h.0001M.4665 -.055h.0001"/><path class="pt s" d="M0 .01h.0001M.25 -.025h.0001M.5 -.05h.0001"/><path class="pt m" d="M.0335 0h.0001M.2835 -.015h.0001M.5335 -.055h.0001"/>
</g></g><use href="#bd"/></g>
<g id="p6-3" transform="translate(1068.5 2388)"><use href="#bg"/><g clip-path="url(#cp)"><g transform="translate(47.5 170.5) scale(612 -310)">
<path class="eb r" d="M-.0335 .23V1M-.0415 .23h.016M.2165 .13V1M.2085 .13h.016M.4665 -.045V1M.4585 -.045h.016"/>
<path class="eb s" d="M0 .01V1M-.008 .01h.016M.25 -.48V1M.242 -.48h.016M.5 -1V.38m-.008 0h.016"/>
<path class="eb m" d="M.0335 .3V1M.0255 .3h.016M.2835 .27V1M.2755 .27h.016M.5335 -.32V1M.5255 -.32h.016"/>
<path class="ln r" d="M-.0335 .535L.2165 .55L.4665 .46"/><path class="ln s" d="M0 .465L.25 .375L.5 -.365"/><path class="ln m" d="M.0335 .52L.2835 .58L.5335 .385"/>
<path class="pt r" d="M-.0335 .535h.0001M.2165 .55h.0001M.4665 .46h.0001"/><path class="pt s" d="M0 .465h.0001M.25 .375h.0001M.5 -.365h.0001"/><path class="pt m" d="M.0335 .52h.0001M.2835 .58h.0001M.5335 .385h.0001"/>
</g></g><use href="#bd"/></g>
<g id="p6-4" transform="translate(1494.5 2388)"><use href="#bg"/><g clip-path="url(#cp)"><g transform="translate(47.5 170.5) scale(612 -310)">
<path class="eb r" d="M-.0335 -.155V.24m-.008 0h.016M-.0415 -.155h.016M.2165 -.185V.18m-.008 0h.016M.2085 -.185h.016M.4665 -.165V.065m-.008 0h.016M.4585 -.165h.016"/>
<path class="eb s" d="M0 -.165V.27m-.008 0h.016M-.008 -.165h.016M.25 -.175V.15m-.008 0h.016M.242 -.175h.016M.5 -.16V.065m-.008 0h.016M.492 -.16h.016"/>
<path class="eb m" d="M.0335 -.07V.32m-.008 0h.016M.0255 -.07h.016M.2835 -.22V.225m-.008 0h.016M.2755 -.22h.016M.5335 -.26V.055m-.008 0h.016M.5255 -.26h.016"/>
<path class="ln r" d="M-.0335 .09L.2165 -.05L.4665 -.015"/><path class="ln s" d="M0 .06L.25 -.055L.5 -.02"/><path class="ln m" d="M.0335 .1L.2835 -.055L.5335 -.025"/>
<path class="pt r" d="M-.0335 .09h.0001M.2165 -.05h.0001M.4665 -.015h.0001"/><path class="pt s" d="M0 .06h.0001M.25 -.055h.0001M.5 -.02h.0001"/><path class="pt m" d="M.0335 .1h.0001M.2835 -.055h.0001M.5335 -.025h.0001"/>
</g></g><use href="#bd"/></g>
<g id="p6-5" transform="translate(1920.5 2388)"><use href="#bg"/><g clip-path="url(#cp)"><g transform="translate(47.5 170.5) scale(612 -310)">
<path class="eb r" d="M-.0335 -.5V.015m-.008 0h.016M-.0415 -.5h.016M.2165 -.525V.04m-.008 0h.016M.2085 -.525h.016M.4665 -1V-.08m-.008 0h.016"/>
<path class="eb s" d="M0 -.355V-.055m-.008 0h.016M-.008 -.355h.016M.25 -.485V.04m-.008 0h.016M.242 -.485h.016M.5 -.355V-.08m-.008 0h.016M.492 -.355h.016"/>
<path class="eb m" d="M.0335 -1V-.07m-.008 0h.016M.2835 -1V-.035m-.008 0h.016M.5335 -1V-.235m-.008 0h.016"/>
<path class="ln r" d="M-.0335 -.225L.2165 -.36L.4665 -.35"/><path class="ln s" d="M0 -.235L.25 -.17L.5 -.225"/><path class="ln m" d="M.0335 -.32L.2835 -.305L.5335 -.555"/>
<path class="pt r" d="M-.0335 -.225h.0001M.2165 -.36h.0001M.4665 -.35h.0001"/><path class="pt s" d="M0 -.235h.0001M.25 -.17h.0001M.5 -.225h.0001"/><path class="pt m" d="M.0335 -.32h.0001M.2835 -.305h.0001M.5335 -.555h.0001"/>
</g></g><use href="#bd"/></g>
<g id="p6-6" transform="translate(2346.5 2388)"><use href="#bg"/><g clip-path="url(#cp)"><g transform="translate(47.5 170.5) scale(612 -310)">
<path class="eb r" d="M-.0335 -1V0m-.008 0h.016M.2165 -1V-.325m-.008 0h.016"/>
<path class="eb s" d="M0 -.205V-.03m-.008 0h.016M-.008 -.205h.016M.25 -.085V.05m-.008 0h.016M.242 -.085h.016M.5 -.13V.06m-.008 0h.016M.492 -.13h.016"/>
<path class="eb m" d="M.0335 -1V-.275m-.008 0h.016M.2835 -1V-.295m-.008 0h.016M.5335 -1V-.355m-.008 0h.016"/>
<path class="ln r" d="M-.0335 -.295L.2165 -.555L.4665 -.65"/><path class="ln s" d="M0 -.115L.25 -.02L.5 -.01"/><path class="ln m" d="M.0335 -.6L.2835 -.49L.5335 -.65"/>
<path class="pt r" d="M-.0335 -.295h.0001M.2165 -.555h.0001M.4665 -.65h.0001"/><path class="pt s" d="M0 -.115h.0001M.25 -.02h.0001M.5 -.01h.0001"/><path class="pt m" d="M.0335 -.6h.0001M.2835 -.49h.0001M.5335 -.65h.0001"/>
</g></g><use href="#bd"/></g>
<g id="p6-7" transform="translate(2772.5 2388)"><use href="#bg"/><g clip-path="url(#cp)"><g transform="translate(47.5 170.5) scale(612 -310)">
<path class="eb s" d="M0 -1V1M.25 -.07V1M.242 -.07h.016M.5 -1V1"/>
<path class="ln s" d="M0 .165L.25 .455L.5 .12"/>
<path class="pt s" d="M0 .165h.0001M.25 .455h.0001M.5 .12h.0001"/>
</g></g><use href="#bd"/></g>
<g id="p6-8" transform="translate(3198.5 2388)"><use href="#bg"/><g clip-path="url(#cp)"><g transform="translate(47.5 170.5) scale(612 -310)">
<path class="eb r" d="M.4665 -1V-.44m-.008 0h.016"/>
<path class="eb s" d="M0 -.11V1M-.008 -.11h.016M.25 -.01V1M.242 -.01h.016M.5 .02V1M.492 .02h.016"/>
<path class="ln s" d="M0 .17L.25 .255L.5 .455"/>
<path class="pt s" d="M0 .17h.0001M.25 .255h.0001M.5 .455h.0001"/>
</g></g><use href="#bd"/></g>
<g id="p6-9" transform="translate(3624.5 2388)"><use href="#bg"/><g clip-path="url(#cp)"><g transform="translate(47.5 170.5) scale(612 -310)">
<path class="eb r" d="M-.0335 -.16V.185m-.008 0h.016M-.0415 -.16h.016M.2165 -.085V.15m-.008 0h.016M.2085 -.085h.016M.4665 .07V.225m-.008 0h.016M.4585 .07h.016"/>
<path class="eb s" d="M0 -.19V.11m-.008 0h.016M-.008 -.19h.016M.25 -.115V.125m-.008 0h.016M.242 -.115h.016M.5 -.035V.09m-.008 0h.016M.492 -.035h.016"/>
<path class="eb m" d="M.0335 -.13V.195m-.008 0h.016M.0255 -.13h.016M.2835 -.195V.075m-.008 0h.016M.2755 -.195h.016M.5335 -.035V.17m-.008 0h.016M.5255 -.035h.016"/>
<path class="ln r" d="M-.0335 .055L.2165 .06L.4665 .14"/><path class="ln s" d="M0 -.035L.25 -.025L.5 .035"/><path class="ln m" d="M.0335 .08L.2835 -.01L.5335 .04"/>
<path class="pt r" d="M-.0335 .055h.0001M.2165 .06h.0001M.4665 .14h.0001"/><path class="pt s" d="M0 -.035h.0001M.25 -.025h.0001M.5 .035h.0001"/><path class="pt m" d="M.0335 .08h.0001M.2835 -.01h.0001M.5335 .04h.0001"/>
</g></g><use href="#bd"/></g>
<g id="p6-10" transform="translate(4050.5 2388)"><use href="#bg"/><g clip-path="url(#cp)"><g transform="translate(47.5 170.5) scale(612 -310)">
<path class="ln r" d="M-.0335 .065L.2165 .045L.4665 -.01"/><path class="ln s" d="M0 .055L.25 .035L.5 -.015"/><path class="ln m" d="M.0335 .05L.2835 .005L.5335 -.015"/>
<path class="pt r" d="M-.0335 .065h.0001M.2165 .045h.0001M.4665 -.01h.0001"/><path class="pt s" d="M0 .055h.0001M.25 .035h.0001M.5 -.015h.0001"/><path class="pt m" d="M.0335 .05h.0001M.2835 .005h.0001M.5335 -.015h.0001"/>
</g></g><use href="#bd"/></g>
<g id="p6-11" transform="translate(4476.5 2388)"><use href="#bg"/><g clip-path="url(#cp)"><g transform="translate(47.5 170.5) scale(612 -310)">
<path class="eb r" d="M-.0335 -.49V.49m-.008 0h.016M-.0415 -.49h.016M.2165 .03V1M.2085 .03h.016M.4665 -1V.52m-.008 0h.016"/>
<path class="eb s" d="M0 -.525V1M-.008 -.525h.016M.25 -.295V1M.242 -.295h.016M.5 -1V.52m-.008 0h.016"/>
<path class="eb m" d="M.0335 -.14V1M.0255 -.14h.016M.2835 .035V1M.2755 .035h.016M.5335 -1V1"/>
<path class="ln r" d="M-.0335 .41L.2165 .505L.4665 -.045"/><path class="ln s" d="M0 .405L.25 .39L.5 .055"/><path class="ln m" d="M.0335 .565L.2835 .475L.5335 .06"/>
<path class="pt r" d="M-.0335 .41h.0001M.2165 .505h.0001M.4665 -.045h.0001"/><path class="pt s" d="M0 .405h.0001M.25 .39h.0001M.5 .055h.0001"/><path class="pt m" d="M.0335 .565h.0001M.2835 .475h.0001M.5335 .06h.0001"/>
</g></g><use href="#bd"/></g>
<g id="p6-12" transform="translate(4902.5 2388)"><use href="#bg"/><g clip-path="url(#cp)"><g transform="translate(47.5 170.5) scale(612 -310)">
<path class="eb r" d="M-.0335 -1V-.06m-.008 0h.016M.2165 -1V-.12m-.008 0h.016M.4665 -1V-.105m-.008 0h.016"/>
<path class="eb s" d="M0 -1V.075m-.008 0h.016M.25 -.38V.1m-.008 0h.016M.242 -.38h.016M.5 -.525V0m-.008 0h.016M.492 -.525h.016"/>
<path class="eb m" d="M.0335 -1V.125m-.008 0h.016M.2835 -.325V.185m-.008 0h.016M.2755 -.325h.016M.5335 -.35V.14m-.008 0h.016M.5255 -.35h.016"/>
<path class="ln r" d="M-.0335 -.415L.2165 -.335L.4665 -.305"/><path class="ln s" d="M0 -.305L.25 -.175L.5 -.275"/><path class="ln m" d="M.0335 -.21L.2835 -.02L.5335 -.03"/>
<path class="pt r" d="M-.0335 -.415h.0001M.2165 -.335h.0001M.4665 -.305h.0001"/><path class="pt s" d="M0 -.305h.0001M.25 -.175h.0001M.5 -.275h.0001"/><path class="pt m" d="M.0335 -.21h.0001M.2835 -.02h.0001M.5335 -.03h.0001"/>
</g></g><use href="#bd"/></g>
<!-- Row 7 -->
<g id="p7-1" transform="translate(216.5 2754)"><use href="#bg"/><g clip-path="url(#cp)"><g transform="translate(47.5 170.5) scale(612 -310)">
<path class="eb r" d="M-.0335 -.29V-.03m-.008 0h.016M-.0415 -.29h.016M.2165 -.2V-.01m-.008 0h.016M.2085 -.2h.016M.4665 -.18V-.01m-.008 0h.016M.4585 -.18h.016"/>
<path class="eb s" d="M0 -.28V-.04m-.008 0h.016M-.008 -.28h.016M.25 -.18V-.01m-.008 0h.016M.242 -.18h.016M.5 -.21V-.02m-.008 0h.016M.492 -.21h.016"/>
<path class="eb m" d="M.0335 -.27V.01m-.008 0h.016M.0255 -.27h.016M.2835 -.255V-.01m-.008 0h.016M.2755 -.255h.016M.5335 -.215V.035m-.008 0h.016M.5255 -.215h.016"/>
<path class="ln r" d="M-.0335 -.12L.2165 -.105L.4665 -.09"/><path class="ln s" d="M0 -.165L.25 -.075L.5 -.12"/><path class="ln m" d="M.0335 -.065L.2835 -.12L.5335 -.075"/>
<path class="pt r" d="M-.0335 -.12h.0001M.2165 -.105h.0001M.4665 -.09h.0001"/><path class="pt s" d="M0 -.165h.0001M.25 -.075h.0001M.5 -.12h.0001"/><path class="pt m" d="M.0335 -.065h.0001M.2835 -.12h.0001M.5335 -.075h.0001"/>
</g></g><use href="#bd"/></g>
<g id="p7-2" transform="translate(642.5 2754)"><use href="#bg"/><g clip-path="url(#cp)"><g transform="translate(47.5 170.5) scale(612 -310)">
<path class="ln r" d="M-.0335 .01L.2165 -.005L.4665 .03"/><path class="ln s" d="M0 .01L.25 .005L.5 .03"/><path class="ln m" d="M.0335 .01L.2835 -.01L.5335 .03"/>
<path class="pt r" d="M-.0335 .01h.0001M.2165 -.005h.0001M.4665 .03h.0001"/><path class="pt s" d="M0 .01h.0001M.25 .005h.0001M.5 .03h.0001"/><path class="pt m" d="M.0335 .01h.0001M.2835 -.01h.0001M.5335 .03h.0001"/>
</g></g><use href="#bd"/></g>
<g id="p7-3" transform="translate(1068.5 2754)"><use href="#bg"/><g clip-path="url(#cp)"><g transform="translate(47.5 170.5) scale(612 -310)">
<path class="eb r" d="M-.0335 -1V1M.2165 .6V1M.4665 -.17V1M.4585 -.17h.016"/>
<path class="eb s" d="M0 -.305V1M-.008 -.305h.016M.25 .1V1M.242 .1h.016M.5 -.44V1M.492 -.44h.016"/>
<path class="eb m" d="M.0335 -1V1M.2835 .58V1M.5335 -.14V1M.5255 -.14h.016"/>
<path class="ln r" d="M-.0335 .255L.2165 .67L.4665 .7"/><path class="ln s" d="M0 .295L.25 .62L.5 .205"/><path class="ln m" d="M.0335 .27L.2835 .65L.5335 .7"/>
<path class="pt r" d="M-.0335 .255h.0001M.2165 .67h.0001M.4665 .7h.0001"/><path class="pt s" d="M0 .295h.0001M.25 .62h.0001M.5 .205h.0001"/><path class="pt m" d="M.0335 .27h.0001M.2835 .65h.0001M.5335 .7h.0001"/>
</g></g><use href="#bd"/></g>
<g id="p7-4" transform="translate(1494.5 2754)"><use href="#bg"/><g clip-path="url(#cp)"><g transform="translate(47.5 170.5) scale(612 -310)">
<path class="eb r" d="M-.0335 -.15V.185m-.008 0h.016M-.0415 -.15h.016M.2165 -.255V.095m-.008 0h.016M.2085 -.255h.016M.4665 -.255V.095m-.008 0h.016M.4585 -.255h.016"/>
<path class="eb s" d="M0 -.125V.155m-.008 0h.016M-.008 -.125h.016M.25 -.255V.095m-.008 0h.016M.242 -.255h.016M.5 -.1V.205m-.008 0h.016M.492 -.1h.016"/>
<path class="eb m" d="M.0335 -.12V.155m-.008 0h.016M.0255 -.12h.016M.2835 -.24V.11m-.008 0h.016M.2755 -.24h.016M.5335 -.17V.15m-.008 0h.016M.5255 -.17h.016"/>
<path class="ln r" d="M-.0335 0L.2165 -.05L.4665 -.08"/><path class="ln s" d="M0 0L.25 -.05L.5 .065"/><path class="ln m" d="M.0335 0L.2835 -.02L.5335 -.01"/>
<path class="pt r" d="M-.0335 0h.0001M.2165 -.05h.0001M.4665 -.08h.0001"/><path class="pt s" d="M0 0h.0001M.25 -.05h.0001M.5 .065h.0001"/><path class="pt m" d="M.0335 0h.0001M.2835 -.02h.0001M.5335 -.01h.0001"/>
</g></g><use href="#bd"/></g>
<g id="p7-5" transform="translate(1920.5 2754)"><use href="#bg"/><g clip-path="url(#cp)"><g transform="translate(47.5 170.5) scale(612 -310)">
<path class="eb r" d="M-.0335 -.51V-.08m-.008 0h.016M-.0415 -.51h.016M.2165 -.39V-.21m-.008 0h.016M.2085 -.39h.016M.4665 -1V-.21m-.008 0h.016"/>
<path class="eb s" d="M0 -.345V-.005m-.008 0h.016M-.008 -.345h.016M.25 -.37V-.08m-.008 0h.016M.242 -.37h.016M.5 -1V-.1m-.008 0h.016"/>
<path class="eb m" d="M.0335 -.52V-.01m-.008 0h.016M.0255 -.52h.016M.2835 -.37V-.18m-.008 0h.016M.2755 -.37h.016M.5335 -1V-.05m-.008 0h.016"/>
<path class="ln r" d="M-.0335 -.27L.2165 -.285L.4665 -.495"/><path class="ln s" d="M0 -.08L.25 -.18L.5 -.325"/><path class="ln m" d="M.0335 -.27L.2835 -.27L.5335 -.265"/>
<path class="pt r" d="M-.0335 -.27h.0001M.2165 -.285h.0001M.4665 -.495h.0001"/><path class="pt s" d="M0 -.08h.0001M.25 -.18h.0001M.5 -.325h.0001"/><path class="pt m" d="M.0335 -.27h.0001M.2835 -.27h.0001M.5335 -.265h.0001"/>
</g></g><use href="#bd"/></g>
<g id="p7-6" transform="translate(2346.5 2754)"><use href="#bg"/><g clip-path="url(#cp)"><g transform="translate(47.5 170.5) scale(612 -310)">
<path class="eb r" d="M-.0335 -1V-.385m-.008 0h.016M.2165 -1V-.165m-.008 0h.016M.4665 -1V-.3m-.008 0h.016"/>
<path class="eb s" d="M0 -.15V.085m-.008 0h.016M-.008 -.15h.016M.25 -.05V.085m-.008 0h.016M.242 -.05h.016"/>
<path class="eb m" d="M.0335 -1V-.08m-.008 0h.016M.2835 -1V-.255m-.008 0h.016M.5335 -1V-.295m-.008 0h.016"/>
<path class="ln r" d="M-.0335 -.5L.2165 -.475L.4665 -.65"/><path class="ln s" d="M0 0L.25 .025L.5 0"/><path class="ln m" d="M.0335 -.42L.2835 -.42L.5335 -.62"/>
<path class="pt r" d="M-.0335 -.5h.0001M.2165 -.475h.0001M.4665 -.65h.0001"/><path class="pt s" d="M0 0h.0001M.25 .025h.0001M.5 0h.0001"/><path class="pt m" d="M.0335 -.42h.0001M.2835 -.42h.0001M.5335 -.62h.0001"/>
</g></g><use href="#bd"/></g>
<g id="p7-7" transform="translate(2772.5 2754)"><use href="#bg"/><g clip-path="url(#cp)"><g transform="translate(47.5 170.5) scale(612 -310)">
<path class="eb s" d="M0 -1V.095m-.008 0h.016M.25 -1V1M.5 -1V1"/>
<path class="ln s" d="M0 -2.1L.25 -.05L.5 .44"/>
<path class="pt s" d="M0 -2.1h.0001M.25 -.05h.0001M.5 .44h.0001"/>
</g></g><use href="#bd"/></g>
<g id="p7-8" transform="translate(3198.5 2754)"><use href="#bg"/><g clip-path="url(#cp)"><g transform="translate(47.5 170.5) scale(612 -310)">
<path class="eb r" d="M.4665 -1V.025m-.008 0h.016"/>
<path class="eb s" d="M0 .01V1M-.008 .01h.016M.25 -.315V.47m-.008 0h.016M.242 -.315h.016M.5 .255V1M.492 .255h.016"/>
<path class="eb m" d="M.2835 -1V-.39m-.008 0h.016M.5335 -1V-.49m-.008 0h.016"/>
<path class="ln s" d="M0 .34L.25 .155L.5 .53"/>
<path class="pt r" d="M.4665 -.55h.0001"/><path class="pt s" d="M0 .34h.0001M.25 .155h.0001M.5 .53h.0001"/>
</g></g><use href="#bd"/></g>
<g id="p7-9" transform="translate(3624.5 2754)"><use href="#bg"/><g clip-path="url(#cp)"><g transform="translate(47.5 170.5) scale(612 -310)">
<path class="eb r" d="M-.0335 -.24V.025m-.008 0h.016M-.0415 -.24h.016M.2165 -.17V.01m-.008 0h.016M.2085 -.17h.016M.4665 -.11V.12m-.008 0h.016M.4585 -.11h.016"/>
<path class="eb s" d="M0 -.29V-.055m-.008 0h.016M-.008 -.29h.016M.25 -.18V.01m-.008 0h.016M.242 -.18h.016M.5 -.1V.055m-.008 0h.016M.492 -.1h.016"/>
<path class="eb m" d="M.0335 -.24V.02m-.008 0h.016M.0255 -.24h.016M.2835 -.155V.04m-.008 0h.016M.2755 -.155h.016M.5335 .01V.155m-.008 0h.016M.5255 .01h.016"/>
<path class="ln r" d="M-.0335 -.11L.2165 -.1L.4665 -.005"/><path class="ln s" d="M0 -.14L.25 -.11L.5 -.025"/><path class="ln m" d="M.0335 -.11L.2835 -.055L.5335 .085"/>
<path class="pt r" d="M-.0335 -.11h.0001M.2165 -.1h.0001M.4665 -.005h.0001"/><path class="pt s" d="M0 -.14h.0001M.25 -.11h.0001M.5 -.025h.0001"/><path class="pt m" d="M.0335 -.11h.0001M.2835 -.055h.0001M.5335 .085h.0001"/>
</g></g><use href="#bd"/></g>
<g id="p7-10" transform="translate(4050.5 2754)"><use href="#bg"/><g clip-path="url(#cp)"><g transform="translate(47.5 170.5) scale(612 -310)">
<path class="ln r" d="M-.0335 -.005L.2165 .01L.4665 -.025"/><path class="ln s" d="M0 .01L.25 .01L.5 .02"/><path class="ln m" d="M.0335 .02L.2835 -.02L.5335 .01"/>
<path class="pt r" d="M-.0335 -.005h.0001M.2165 .01h.0001M.4665 -.025h.0001"/><path class="pt s" d="M0 .01h.0001M.25 .01h.0001M.5 .02h.0001"/><path class="pt m" d="M.0335 .02h.0001M.2835 -.02h.0001M.5335 .01h.0001"/>
</g></g><use href="#bd"/></g>
<g id="p7-11" transform="translate(4476.5 2754)"><use href="#bg"/><g clip-path="url(#cp)"><g transform="translate(47.5 170.5) scale(612 -310)">
<path class="eb r" d="M-.0335 -1V1M.2165 -.185V1M.2085 -.185h.016M.4665 -.2V1M.4585 -.2h.016"/>
<path class="eb s" d="M0 -1V.465m-.008 0h.016M.25 -1V1M.5 -.405V1M.492 -.405h.016"/>
<path class="eb m" d="M.0335 -1V1M.2835 .45V1M.2755 .45h.016M.5335 -1V1"/>
<path class="ln r" d="M-.0335 -.05L.2165 .5L.4665 .65"/><path class="ln s" d="M0 -.41L.25 .235L.5 .265"/><path class="ln m" d="M.0335 .305L.2835 .62L.5335 .8"/>
<path class="pt r" d="M-.0335 -.05h.0001M.2165 .5h.0001M.4665 .65h.0001"/><path class="pt s" d="M0 -.41h.0001M.25 .235h.0001M.5 .265h.0001"/><path class="pt m" d="M.0335 .305h.0001M.2835 .62h.0001M.5335 .8h.0001"/>
</g></g><use href="#bd"/></g>
<g id="p7-12" transform="translate(4902.5 2754)"><use href="#bg"/><g clip-path="url(#cp)"><g transform="translate(47.5 170.5) scale(612 -310)">
<path class="eb r" d="M-.0335 -1V0m-.008 0h.016M.2165 -1V0m-.008 0h.016M.4665 -.45V.16m-.008 0h.016M.4585 -.45h.016"/>
<path class="eb s" d="M0 -1V.01m-.008 0h.016M.25 -1V-.165m-.008 0h.016M.5 -.52V.1m-.008 0h.016M.492 -.52h.016"/>
<path class="eb m" d="M.0335 -.07V.27m-.008 0h.016M.0255 -.07h.016M.2835 -.44V.175m-.008 0h.016M.2755 -.44h.016M.5335 -.065V.29m-.008 0h.016M.5255 -.065h.016"/>
<path class="ln r" d="M-.0335 -.37L.2165 -.49L.4665 .01"/><path class="ln s" d="M0 -.21L.25 -.515L.5 -.21"/><path class="ln m" d="M.0335 .175L.2835 -.025L.5335 .145"/>
<path class="pt r" d="M-.0335 -.37h.0001M.2165 -.49h.0001M.4665 .01h.0001"/><path class="pt s" d="M0 -.21h.0001M.25 -.515h.0001M.5 -.21h.0001"/><path class="pt m" d="M.0335 .175h.0001M.2835 -.025h.0001M.5335 .145h.0001"/>
</g></g><use href="#bd"/></g>
<!-- Row 8 -->
<g id="p8-1" transform="translate(216.5 3120)"><use href="#bg"/><g clip-path="url(#cp)"><g transform="translate(47.5 170.5) scale(612 -310)">
<path class="eb r" d="M-.0335 -.19V.01m-.008 0h.016M-.0415 -.19h.016M.2165 -.145V.015m-.008 0h.016M.2085 -.145h.016M.4665 -.33V-.05m-.008 0h.016M.4585 -.33h.016"/>
<path class="eb s" d="M0 -.195V.005m-.008 0h.016M-.008 -.195h.016M.25 -.155V-.01m-.008 0h.016M.242 -.155h.016M.5 -.295V-.04m-.008 0h.016M.492 -.295h.016"/>
<path class="eb m" d="M.0335 -.22V.005m-.008 0h.016M.0255 -.22h.016M.2835 -.19V.02m-.008 0h.016M.2755 -.19h.016M.5335 -.285V.045m-.008 0h.016M.5255 -.285h.016"/>
<path class="ln r" d="M-.0335 -.065L.2165 -.07L.4665 -.24"/><path class="ln s" d="M0 -.095L.25 -.085L.5 -.185"/><path class="ln m" d="M.0335 -.065L.2835 -.08L.5335 -.1"/>
<path class="pt r" d="M-.0335 -.065h.0001M.2165 -.07h.0001M.4665 -.24h.0001"/><path class="pt s" d="M0 -.095h.0001M.25 -.085h.0001M.5 -.185h.0001"/><path class="pt m" d="M.0335 -.065h.0001M.2835 -.08h.0001M.5335 -.1h.0001"/>
</g></g><use href="#bd"/></g>
<g id="p8-2" transform="translate(642.5 3120)"><use href="#bg"/><g clip-path="url(#cp)"><g transform="translate(47.5 170.5) scale(612 -310)">
<path class="ln r" d="M-.0335 -.02L.2165 .01L.4665 -.045"/><path class="ln s" d="M0 -.025L.25 .005L.5 -.02"/><path class="ln m" d="M.0335 -.025L.2835 .015L.5335 -.01"/>
<path class="pt r" d="M-.0335 -.02h.0001M.2165 .01h.0001M.4665 -.045h.0001"/><path class="pt s" d="M0 -.025h.0001M.25 .005h.0001M.5 -.02h.0001"/><path class="pt m" d="M.0335 -.025h.0001M.2835 .015h.0001M.5335 -.01h.0001"/>
</g></g><use href="#bd"/></g>
<g id="p8-3" transform="translate(1068.5 3120)"><use href="#bg"/><g clip-path="url(#cp)"><g transform="translate(47.5 170.5) scale(612 -310)">
<path class="eb r" d="M-.0335 .29V1M-.0415 .29h.016M.2165 -.025V1M.2085 -.025h.016M.4665 -1V.445m-.008 0h.016"/>
<path class="eb s" d="M0 .29V1M-.008 .29h.016M.25 -.105V1M.242 -.105h.016M.5 -1V.415m-.008 0h.016"/>
<path class="eb m" d="M.0335 .37V1M.0255 .37h.016M.2835 .18V1M.2755 .18h.016M.5335 -1V.48m-.008 0h.016"/>
<path class="ln r" d="M-.0335 .65L.2165 .52L.4665 -.21"/><path class="ln s" d="M0 .53L.25 .5L.5 -.215"/><path class="ln m" d="M.0335 .75L.2835 .68L.5335 -.15"/>
<path class="pt r" d="M-.0335 .65h.0001M.2165 .52h.0001M.4665 -.21h.0001"/><path class="pt s" d="M0 .53h.0001M.25 .5h.0001M.5 -.215h.0001"/><path class="pt m" d="M.0335 .75h.0001M.2835 .68h.0001M.5335 -.15h.0001"/>
</g></g><use href="#bd"/></g>
<g id="p8-4" transform="translate(1494.5 3120)"><use href="#bg"/><g clip-path="url(#cp)"><g transform="translate(47.5 170.5) scale(612 -310)">
<path class="eb r" d="M-.0335 -.02V.155m-.008 0h.016M-.0415 -.02h.016M.2165 -.37V.1m-.008 0h.016M.2085 -.37h.016M.4665 -.35V.125m-.008 0h.016M.4585 -.35h.016"/>
<path class="eb s" d="M0 -.085V.15m-.008 0h.016M-.008 -.085h.016M.25 -.19V.105m-.008 0h.016M.242 -.19h.016M.5 -.305V.185m-.008 0h.016M.492 -.305h.016"/>
<path class="eb m" d="M.0335 .025V.195m-.008 0h.016M.0255 .025h.016M.2835 -.19V.155m-.008 0h.016M.2755 -.19h.016M.5335 -.13V.27m-.008 0h.016M.5255 -.13h.016"/>
<path class="ln r" d="M-.0335 .075L.2165 -.11L.4665 -.17"/><path class="ln s" d="M0 .065L.25 -.025L.5 -.025"/><path class="ln m" d="M.0335 .11L.2835 -.01L.5335 .12"/>
<path class="pt r" d="M-.0335 .075h.0001M.2165 -.11h.0001M.4665 -.17h.0001"/><path class="pt s" d="M0 .065h.0001M.25 -.025h.0001M.5 -.025h.0001"/><path class="pt m" d="M.0335 .11h.0001M.2835 -.01h.0001M.5335 .12h.0001"/>
</g></g><use href="#bd"/></g>
<g id="p8-5" transform="translate(1920.5 3120)"><use href="#bg"/><g clip-path="url(#cp)"><g transform="translate(47.5 170.5) scale(612 -310)">
<path class="eb r" d="M-.0335 -1V0m-.008 0h.016M.2165 -1V-.22m-.008 0h.016M.4665 -.5V-.115m-.008 0h.016M.4585 -.5h.016"/>
<path class="eb s" d="M0 -.37V.045m-.008 0h.016M-.008 -.37h.016M.25 -.35V-.01m-.008 0h.016M.242 -.35h.016M.5 -.335V.045m-.008 0h.016M.492 -.335h.016"/>
<path class="eb m" d="M.0335 -.335V.015m-.008 0h.016M.0255 -.335h.016M.2835 -.44V-.09m-.008 0h.016M.2755 -.44h.016M.5335 -.275V.07m-.008 0h.016M.5255 -.275h.016"/>
<path class="ln r" d="M-.0335 -.2L.2165 -.41L.4665 -.3"/><path class="ln s" d="M0 -.1L.25 -.145L.5 -.14"/><path class="ln m" d="M.0335 -.1L.2835 -.235L.5335 -.035"/>
<path class="pt r" d="M-.0335 -.2h.0001M.2165 -.41h.0001M.4665 -.3h.0001"/><path class="pt s" d="M0 -.1h.0001M.25 -.145h.0001M.5 -.14h.0001"/><path class="pt m" d="M.0335 -.1h.0001M.2835 -.235h.0001M.5335 -.035h.0001"/>
</g></g><use href="#bd"/></g>
<g id="p8-6" transform="translate(2346.5 3120)"><use href="#bg"/><g clip-path="url(#cp)"><g transform="translate(47.5 170.5) scale(612 -310)">
<path class="eb r" d="M-.0335 -1V-.185m-.008 0h.016M.2165 -1V-.185m-.008 0h.016M.4665 -1V-.215m-.008 0h.016"/>
<path class="eb s" d="M0 -.065V.06m-.008 0h.016M-.008 -.065h.016M.25 -.135V.04m-.008 0h.016M.242 -.135h.016M.5 -.135V.05m-.008 0h.016M.492 -.135h.016"/>
<path class="eb m" d="M.0335 -1V-.22m-.008 0h.016M.2835 -1V-.155m-.008 0h.016M.5335 -1V-.135m-.008 0h.016"/>
<path class="ln r" d="M-.0335 -.43L.2165 -.48L.4665 -.42"/><path class="ln s" d="M0 .005L.25 -.065L.5 -.02"/><path class="ln m" d="M.0335 -.45L.2835 -.42L.5335 -.32"/>
<path class="pt r" d="M-.0335 -.43h.0001M.2165 -.48h.0001M.4665 -.42h.0001"/><path class="pt s" d="M0 .005h.0001M.25 -.065h.0001M.5 -.02h.0001"/><path class="pt m" d="M.0335 -.45h.0001M.2835 -.42h.0001M.5335 -.32h.0001"/>
</g></g><use href="#bd"/></g>
<g id="p8-7" transform="translate(2772.5 3120)"><use href="#bg"/><g clip-path="url(#cp)"><g transform="translate(47.5 170.5) scale(612 -310)">
<path class="eb s" d="M0 -1V1M.25 -1V1M.5 -1V1"/>
<path class="ln s" d="M0 .265L.25 -.53L.5 -.355"/>
<path class="pt s" d="M0 .265h.0001M.25 -.53h.0001M.5 -.355h.0001"/>
</g></g><use href="#bd"/></g>
<g id="p8-8" transform="translate(3198.5 3120)"><use href="#bg"/><g clip-path="url(#cp)"><g transform="translate(47.5 170.5) scale(612 -310)">
<path class="eb s" d="M0 -.16V.535m-.008 0h.016M-.008 -.16h.016M.25 -.21V.475m-.008 0h.016M.242 -.21h.016M.5 -.32V.39m-.008 0h.016M.492 -.32h.016"/>
<path class="eb m" d="M.0335 -1V-.44m-.008 0h.016M.2835 -1V-.495m-.008 0h.016M.5335 -1V-.47m-.008 0h.016"/>
<path class="ln s" d="M0 .355L.25 .17L.5 .05"/>
<path class="pt s" d="M0 .355h.0001M.25 .17h.0001M.5 .05h.0001"/>
</g></g><use href="#bd"/></g>
<g id="p8-9" transform="translate(3624.5 3120)"><use href="#bg"/><g clip-path="url(#cp)"><g transform="translate(47.5 170.5) scale(612 -310)">
<path class="eb r" d="M-.0335 -.27V.005m-.008 0h.016M-.0415 -.27h.016M.2165 -.08V.09m-.008 0h.016M.2085 -.08h.016M.4665 -.11V.125m-.008 0h.016M.4585 -.11h.016"/>
<path class="eb s" d="M0 -.21V-.055m-.008 0h.016M-.008 -.21h.016M.25 -.13V.095m-.008 0h.016M.242 -.13h.016M.5 -.115V.13m-.008 0h.016M.492 -.115h.016"/>
<path class="eb m" d="M.0335 -.21V-.035m-.008 0h.016M.0255 -.21h.016M.2835 -.145V.14m-.008 0h.016M.2755 -.145h.016M.5335 -.065V.165m-.008 0h.016M.5255 -.065h.016"/>
<path class="ln r" d="M-.0335 -.135L.2165 .005L.4665 .02"/><path class="ln s" d="M0 -.13L.25 -.01L.5 .005"/><path class="ln m" d="M.0335 -.125L.2835 .02L.5335 .045"/>
<path class="pt r" d="M-.0335 -.135h.0001M.2165 .005h.0001M.4665 .02h.0001"/><path class="pt s" d="M0 -.13h.0001M.25 -.01h.0001M.5 .005h.0001"/><path class="pt m" d="M.0335 -.125h.0001M.2835 .02h.0001M.5335 .045h.0001"/>
</g></g><use href="#bd"/></g>
<g id="p8-10" transform="translate(4050.5 3120)"><use href="#bg"/><g clip-path="url(#cp)"><g transform="translate(47.5 170.5) scale(612 -310)">
<path class="ln r" d="M-.0335 0L.2165 .035L.4665 .005"/><path class="ln s" d="M0 0L.25 .035L.5 .01"/><path class="ln m" d="M.0335 .005L.2835 .03L.5335 .015"/>
<path class="pt r" d="M-.0335 0h.0001M.2165 .035h.0001M.4665 .005h.0001"/><path class="pt s" d="M0 0h.0001M.25 .035h.0001M.5 .01h.0001"/><path class="pt m" d="M.0335 .005h.0001M.2835 .03h.0001M.5335 .015h.0001"/>
</g></g><use href="#bd"/></g>
<g id="p8-11" transform="translate(4476.5 3120)"><use href="#bg"/><g clip-path="url(#cp)"><g transform="translate(47.5 170.5) scale(612 -310)">
<path class="eb r" d="M-.0335 .19V1M-.0415 .19h.016M.2165 -1V1M.4665 -.46V1M.4585 -.46h.016"/>
<path class="eb s" d="M0 -.125V1M-.008 -.125h.016M.25 -1V1M.5 -1V.285m-.008 0h.016"/>
<path class="eb m" d="M.0335 .3V1M.0255 .3h.016M.2835 .015V1M.2755 .015h.016M.5335 -.47V1M.5255 -.47h.016"/>
<path class="ln r" d="M-.0335 .7L.2165 .55L.4665 -.105"/><path class="ln s" d="M0 .385L.25 .205L.5 -.34"/><path class="ln m" d="M.0335 .8L.2835 .61L.5335 -.105"/>
<path class="pt r" d="M-.0335 .7h.0001M.2165 .55h.0001M.4665 -.105h.0001"/><path class="pt s" d="M0 .385h.0001M.25 .205h.0001M.5 -.34h.0001"/><path class="pt m" d="M.0335 .8h.0001M.2835 .61h.0001M.5335 -.105h.0001"/>
</g></g><use href="#bd"/></g>
<g id="p8-12" transform="translate(4902.5 3120)"><use href="#bg"/><g clip-path="url(#cp)"><g transform="translate(47.5 170.5) scale(612 -310)">
<path class="eb r" d="M-.0335 -1V-.47m-.008 0h.016M.2165 -1V-.125m-.008 0h.016M.4665 -.225V.18m-.008 0h.016M.4585 -.225h.016"/>
<path class="eb s" d="M0 -1V-.25m-.008 0h.016M.25 -1V-.055m-.008 0h.016M.5 -.085V.225m-.008 0h.016M.492 -.085h.016"/>
<path class="eb m" d="M.0335 -.295V.18m-.008 0h.016M.0255 -.295h.016M.2835 -.215V.4m-.008 0h.016M.2755 -.215h.016M.5335 -.075V.34m-.008 0h.016M.5255 -.075h.016"/>
<path class="ln r" d="M-.0335 -.75L.2165 -.57L.4665 -.01"/><path class="ln s" d="M0 -.62L.25 -.285L.5 .08"/><path class="ln m" d="M.0335 -.025L.2835 .065L.5335 .14"/>
<path class="pt r" d="M-.0335 -.75h.0001M.2165 -.57h.0001M.4665 -.01h.0001"/><path class="pt s" d="M0 -.62h.0001M.25 -.285h.0001M.5 .08h.0001"/><path class="pt m" d="M.0335 -.025h.0001M.2835 .065h.0001M.5335 .14h.0001"/>
</g></g><use href="#bd"/></g>
</g>
<g id="legend">
<text x="5605" y="1905" font-size="45.8" fill="#000000">EM process error</text>
<path d="M5610 1968H5668" stroke="#440154" stroke-width="9"/><circle cx="5639" cy="1968" r="20.5" fill="#440154"/>
<path d="M5610 2040H5668" stroke="#21908C" stroke-width="9"/><circle cx="5639" cy="2040" r="20.5" fill="#21908C"/>
<path d="M5610 2112H5668" stroke="#FDE725" stroke-width="9"/><circle cx="5639" cy="2112" r="20.5" fill="#FDE725"/>
<text x="5699" y="1981" font-size="36.7" fill="#000000">R</text>
<text x="5699" y="2053" font-size="36.7" fill="#000000">R+S</text>
<text x="5699" y="2125" font-size="36.7" fill="#000000">R+M</text>
</g>
</svg>
